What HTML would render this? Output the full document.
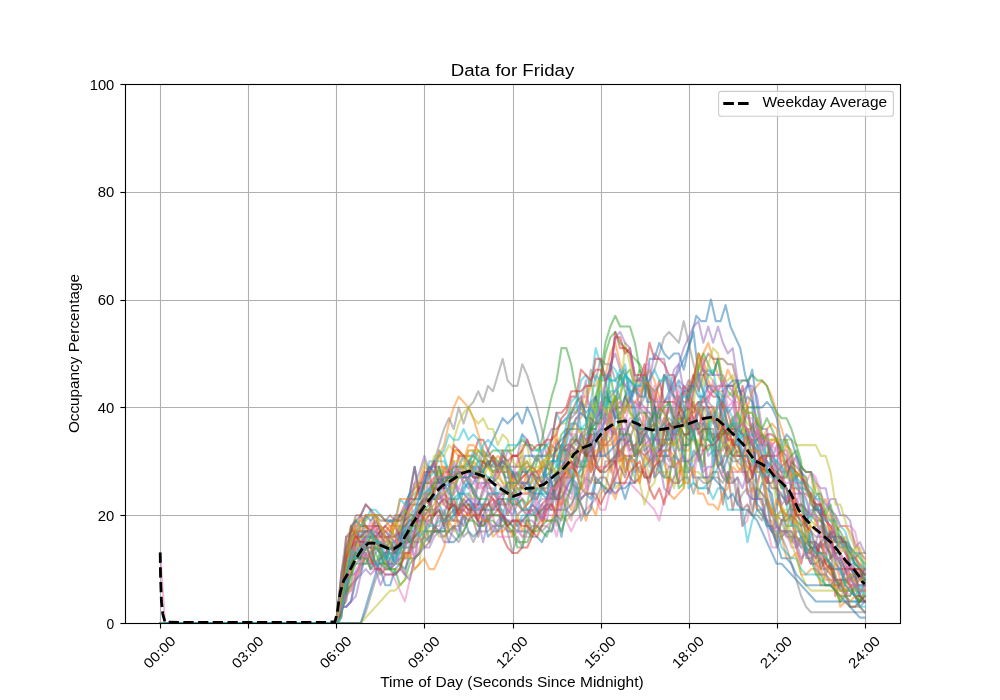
<!DOCTYPE html>
<html><head><meta charset="utf-8"><title>Data for Friday</title>
<style>
html,body{margin:0;padding:0;background:#fff;}
body{width:1000px;height:700px;overflow:hidden;font-family:"Liberation Sans",sans-serif;}
svg{display:block;will-change:transform;}
svg text{font-family:"Liberation Sans",sans-serif;fill:#000;}
</style></head><body>
<svg width="1000" height="700" viewBox="0 0 1000 700">
<rect x="0" y="0" width="1000" height="700" fill="#fff"/>
<g stroke="#b0b0b0" stroke-width="1.11" fill="none"><line x1="160.5" y1="84" x2="160.5" y2="623"/><line x1="248.5" y1="84" x2="248.5" y2="623"/><line x1="336.5" y1="84" x2="336.5" y2="623"/><line x1="424.5" y1="84" x2="424.5" y2="623"/><line x1="513.5" y1="84" x2="513.5" y2="623"/><line x1="601.5" y1="84" x2="601.5" y2="623"/><line x1="689.5" y1="84" x2="689.5" y2="623"/><line x1="777.5" y1="84" x2="777.5" y2="623"/><line x1="865.5" y1="84" x2="865.5" y2="623"/><line x1="125" y1="623.5" x2="900" y2="623.5"/><line x1="125" y1="515.5" x2="900" y2="515.5"/><line x1="125" y1="407.5" x2="900" y2="407.5"/><line x1="125" y1="300.5" x2="900" y2="300.5"/><line x1="125" y1="192.5" x2="900" y2="192.5"/><line x1="125" y1="84.5" x2="900" y2="84.5"/></g>
<g fill="none" stroke-width="2.08" stroke-opacity="0.5" stroke-linejoin="round" stroke-linecap="square">
<polyline points="160.20,623.00 165.09,623.00 169.99,623.00 174.88,623.00 179.77,623.00 184.67,623.00 189.56,623.00 194.45,623.00 199.34,623.00 204.24,623.00 209.13,623.00 214.02,623.00 218.92,623.00 223.81,623.00 228.70,623.00 233.60,623.00 238.49,623.00 243.38,623.00 248.27,623.00 253.17,623.00 258.06,623.00 262.95,623.00 267.85,623.00 272.74,623.00 277.63,623.00 282.53,623.00 287.42,623.00 292.31,623.00 297.21,623.00 302.10,623.00 306.99,623.00 311.88,623.00 316.78,623.00 321.67,623.00 326.56,623.00 331.46,623.00 336.35,623.00 341.24,596.05 346.14,558.32 351.03,558.32 355.92,558.32 360.82,558.32 365.71,547.54 370.60,536.76 375.49,542.15 380.39,542.15 385.28,547.54 390.17,547.54 395.07,547.54 399.96,542.15 404.85,525.98 409.75,520.59 414.64,520.59 419.53,520.59 424.42,520.59 429.32,525.98 434.21,515.20 439.10,504.42 444.00,515.20 448.89,499.03 453.78,499.03 458.68,499.03 463.57,482.86 468.46,488.25 473.36,482.86 478.25,472.08 483.14,461.30 488.03,450.52 492.93,439.74 497.82,428.96 502.71,418.18 507.61,423.57 512.50,418.18 517.39,412.79 522.29,423.57 527.18,407.40 532.07,418.18 536.97,434.35 541.86,455.91 546.75,477.47 551.64,482.86 556.54,499.03 561.43,499.03 566.32,488.25 571.22,477.47 576.11,482.86 581.00,499.03 585.90,493.64 590.79,499.03 595.68,477.47 600.57,482.86 605.47,493.64 610.36,488.25 615.25,493.64 620.15,488.25 625.04,488.25 629.93,482.86 634.83,482.86 639.72,428.96 644.61,450.52 649.51,445.13 654.40,450.52 659.29,450.52 664.18,445.13 669.08,423.57 673.97,450.52 678.86,461.30 683.76,455.91 688.65,472.08 693.54,450.52 698.44,455.91 703.33,477.47 708.22,477.47 713.12,472.08 718.01,428.96 722.90,472.08 727.79,455.91 732.69,450.52 737.58,434.35 742.47,472.08 747.37,472.08 752.26,499.03 757.15,499.03 762.05,482.86 766.94,488.25 771.83,493.64 776.72,525.98 781.62,531.37 786.51,531.37 791.40,536.76 796.30,536.76 801.19,542.15 806.08,552.93 810.98,547.54 815.87,547.54 820.76,542.15 825.66,536.76 830.55,542.15 835.44,563.71 840.33,569.10 845.23,585.27 850.12,590.66 855.01,596.05 859.91,606.83 864.80,601.44" stroke="#1f77b4"/>
<polyline points="160.20,623.00 165.09,623.00 169.99,623.00 174.88,623.00 179.77,623.00 184.67,623.00 189.56,623.00 194.45,623.00 199.34,623.00 204.24,623.00 209.13,623.00 214.02,623.00 218.92,623.00 223.81,623.00 228.70,623.00 233.60,623.00 238.49,623.00 243.38,623.00 248.27,623.00 253.17,623.00 258.06,623.00 262.95,623.00 267.85,623.00 272.74,623.00 277.63,623.00 282.53,623.00 287.42,623.00 292.31,623.00 297.21,623.00 302.10,623.00 306.99,623.00 311.88,623.00 316.78,623.00 321.67,623.00 326.56,623.00 331.46,623.00 336.35,623.00 341.24,617.61 346.14,579.88 351.03,574.49 355.92,547.54 360.82,552.93 365.71,542.15 370.60,542.15 375.49,536.76 380.39,536.76 385.28,542.15 390.17,536.76 395.07,536.76 399.96,515.20 404.85,515.20 409.75,509.81 414.64,482.86 419.53,488.25 424.42,488.25 429.32,472.08 434.21,472.08 439.10,455.91 444.00,445.13 448.89,423.57 453.78,407.40 458.68,396.62 463.57,402.01 468.46,407.40 473.36,418.18 478.25,434.35 483.14,450.52 488.03,461.30 492.93,461.30 497.82,455.91 502.71,461.30 507.61,466.69 512.50,477.47 517.39,488.25 522.29,493.64 527.18,493.64 532.07,488.25 536.97,499.03 541.86,482.86 546.75,493.64 551.64,493.64 556.54,499.03 561.43,504.42 566.32,499.03 571.22,509.81 576.11,488.25 581.00,504.42 585.90,520.59 590.79,504.42 595.68,515.20 600.57,493.64 605.47,488.25 610.36,488.25 615.25,499.03 620.15,482.86 625.04,439.74 629.93,450.52 634.83,445.13 639.72,439.74 644.61,412.79 649.51,423.57 654.40,439.74 659.29,439.74 664.18,439.74 669.08,450.52 673.97,455.91 678.86,439.74 683.76,450.52 688.65,450.52 693.54,434.35 698.44,402.01 703.33,434.35 708.22,418.18 713.12,418.18 718.01,407.40 722.90,402.01 727.79,428.96 732.69,445.13 737.58,466.69 742.47,472.08 747.37,472.08 752.26,488.25 757.15,509.81 762.05,515.20 766.94,520.59 771.83,520.59 776.72,536.76 781.62,536.76 786.51,558.32 791.40,558.32 796.30,552.93 801.19,574.49 806.08,574.49 810.98,569.10 815.87,569.10 820.76,585.27 825.66,585.27 830.55,585.27 835.44,585.27 840.33,606.83 845.23,601.44 850.12,606.83 855.01,606.83 859.91,601.44 864.80,596.05" stroke="#ff7f0e"/>
<polyline points="160.20,623.00 165.09,623.00 169.99,623.00 174.88,623.00 179.77,623.00 184.67,623.00 189.56,623.00 194.45,623.00 199.34,623.00 204.24,623.00 209.13,623.00 214.02,623.00 218.92,623.00 223.81,623.00 228.70,623.00 233.60,623.00 238.49,623.00 243.38,623.00 248.27,623.00 253.17,623.00 258.06,623.00 262.95,623.00 267.85,623.00 272.74,623.00 277.63,623.00 282.53,623.00 287.42,623.00 292.31,623.00 297.21,623.00 302.10,623.00 306.99,623.00 311.88,623.00 316.78,623.00 321.67,623.00 326.56,623.00 331.46,623.00 336.35,623.00 341.24,579.88 346.14,552.93 351.03,547.54 355.92,542.15 360.82,558.32 365.71,547.54 370.60,558.32 375.49,563.71 380.39,552.93 385.28,563.71 390.17,547.54 395.07,552.93 399.96,552.93 404.85,531.37 409.75,515.20 414.64,515.20 419.53,515.20 424.42,509.81 429.32,504.42 434.21,488.25 439.10,488.25 444.00,477.47 448.89,482.86 453.78,482.86 458.68,493.64 463.57,504.42 468.46,504.42 473.36,509.81 478.25,504.42 483.14,504.42 488.03,520.59 492.93,504.42 497.82,499.03 502.71,499.03 507.61,499.03 512.50,504.42 517.39,504.42 522.29,499.03 527.18,504.42 532.07,477.47 536.97,461.30 541.86,439.74 546.75,418.18 551.64,396.62 556.54,380.45 561.43,348.11 566.32,348.11 571.22,364.28 576.11,391.23 581.00,407.40 585.90,418.18 590.79,434.35 595.68,407.40 600.57,407.40 605.47,423.57 610.36,375.06 615.25,402.01 620.15,396.62 625.04,375.06 629.93,369.67 634.83,385.84 639.72,369.67 644.61,380.45 649.51,391.23 654.40,428.96 659.29,434.35 664.18,418.18 669.08,439.74 673.97,445.13 678.86,418.18 683.76,423.57 688.65,434.35 693.54,428.96 698.44,455.91 703.33,428.96 708.22,428.96 713.12,455.91 718.01,455.91 722.90,445.13 727.79,450.52 732.69,455.91 737.58,450.52 742.47,455.91 747.37,439.74 752.26,439.74 757.15,439.74 762.05,445.13 766.94,472.08 771.83,472.08 776.72,493.64 781.62,509.81 786.51,525.98 791.40,525.98 796.30,509.81 801.19,525.98 806.08,520.59 810.98,515.20 815.87,520.59 820.76,520.59 825.66,525.98 830.55,547.54 835.44,536.76 840.33,547.54 845.23,547.54 850.12,547.54 855.01,552.93 859.91,558.32 864.80,563.71" stroke="#2ca02c"/>
<polyline points="160.20,623.00 165.09,623.00 169.99,623.00 174.88,623.00 179.77,623.00 184.67,623.00 189.56,623.00 194.45,623.00 199.34,623.00 204.24,623.00 209.13,623.00 214.02,623.00 218.92,623.00 223.81,623.00 228.70,623.00 233.60,623.00 238.49,623.00 243.38,623.00 248.27,623.00 253.17,623.00 258.06,623.00 262.95,623.00 267.85,623.00 272.74,623.00 277.63,623.00 282.53,623.00 287.42,623.00 292.31,623.00 297.21,623.00 302.10,623.00 306.99,623.00 311.88,623.00 316.78,623.00 321.67,623.00 326.56,623.00 331.46,623.00 336.35,623.00 341.24,612.22 346.14,590.66 351.03,585.27 355.92,579.88 360.82,569.10 365.71,552.93 370.60,563.71 375.49,542.15 380.39,547.54 385.28,536.76 390.17,542.15 395.07,547.54 399.96,547.54 404.85,547.54 409.75,547.54 414.64,536.76 419.53,531.37 424.42,515.20 429.32,509.81 434.21,482.86 439.10,482.86 444.00,482.86 448.89,477.47 453.78,477.47 458.68,472.08 463.57,472.08 468.46,472.08 473.36,477.47 478.25,477.47 483.14,477.47 488.03,482.86 492.93,493.64 497.82,499.03 502.71,536.76 507.61,547.54 512.50,552.93 517.39,552.93 522.29,547.54 527.18,547.54 532.07,536.76 536.97,515.20 541.86,504.42 546.75,499.03 551.64,488.25 556.54,482.86 561.43,477.47 566.32,477.47 571.22,466.69 576.11,472.08 581.00,488.25 585.90,493.64 590.79,493.64 595.68,493.64 600.57,504.42 605.47,493.64 610.36,488.25 615.25,466.69 620.15,450.52 625.04,455.91 629.93,455.91 634.83,455.91 639.72,450.52 644.61,455.91 649.51,450.52 654.40,439.74 659.29,428.96 664.18,423.57 669.08,407.40 673.97,418.18 678.86,396.62 683.76,402.01 688.65,402.01 693.54,407.40 698.44,402.01 703.33,402.01 708.22,396.62 713.12,391.23 718.01,385.84 722.90,385.84 727.79,385.84 732.69,385.84 737.58,418.18 742.47,385.84 747.37,407.40 752.26,434.35 757.15,445.13 762.05,472.08 766.94,461.30 771.83,466.69 776.72,482.86 781.62,509.81 786.51,515.20 791.40,515.20 796.30,547.54 801.19,563.71 806.08,542.15 810.98,542.15 815.87,547.54 820.76,569.10 825.66,558.32 830.55,563.71 835.44,596.05 840.33,579.88 845.23,596.05 850.12,585.27 855.01,596.05 859.91,601.44 864.80,596.05" stroke="#d62728"/>
<polyline points="160.20,623.00 165.09,623.00 169.99,623.00 174.88,623.00 179.77,623.00 184.67,623.00 189.56,623.00 194.45,623.00 199.34,623.00 204.24,623.00 209.13,623.00 214.02,623.00 218.92,623.00 223.81,623.00 228.70,623.00 233.60,623.00 238.49,623.00 243.38,623.00 248.27,623.00 253.17,623.00 258.06,623.00 262.95,623.00 267.85,623.00 272.74,623.00 277.63,623.00 282.53,623.00 287.42,623.00 292.31,623.00 297.21,623.00 302.10,623.00 306.99,623.00 311.88,623.00 316.78,623.00 321.67,623.00 326.56,623.00 331.46,623.00 336.35,623.00 341.24,596.05 346.14,558.32 351.03,558.32 355.92,520.59 360.82,525.98 365.71,525.98 370.60,531.37 375.49,552.93 380.39,547.54 385.28,547.54 390.17,542.15 395.07,563.71 399.96,536.76 404.85,547.54 409.75,536.76 414.64,558.32 419.53,531.37 424.42,531.37 429.32,520.59 434.21,525.98 439.10,531.37 444.00,520.59 448.89,520.59 453.78,515.20 458.68,504.42 463.57,504.42 468.46,499.03 473.36,504.42 478.25,504.42 483.14,493.64 488.03,477.47 492.93,477.47 497.82,466.69 502.71,466.69 507.61,450.52 512.50,455.91 517.39,455.91 522.29,434.35 527.18,439.74 532.07,455.91 536.97,461.30 541.86,455.91 546.75,439.74 551.64,428.96 556.54,428.96 561.43,423.57 566.32,418.18 571.22,418.18 576.11,412.79 581.00,402.01 585.90,380.45 590.79,428.96 595.68,428.96 600.57,407.40 605.47,385.84 610.36,364.28 615.25,353.50 620.15,369.67 625.04,385.84 629.93,380.45 634.83,391.23 639.72,385.84 644.61,375.06 649.51,385.84 654.40,396.62 659.29,455.91 664.18,450.52 669.08,461.30 673.97,455.91 678.86,461.30 683.76,472.08 688.65,472.08 693.54,466.69 698.44,450.52 703.33,434.35 708.22,455.91 713.12,450.52 718.01,450.52 722.90,461.30 727.79,482.86 732.69,482.86 737.58,477.47 742.47,488.25 747.37,472.08 752.26,461.30 757.15,482.86 762.05,466.69 766.94,499.03 771.83,509.81 776.72,520.59 781.62,536.76 786.51,531.37 791.40,542.15 796.30,531.37 801.19,531.37 806.08,536.76 810.98,547.54 815.87,558.32 820.76,542.15 825.66,547.54 830.55,531.37 835.44,542.15 840.33,536.76 845.23,542.15 850.12,552.93 855.01,563.71 859.91,569.10 864.80,574.49" stroke="#9467bd"/>
<polyline points="160.20,623.00 165.09,623.00 169.99,623.00 174.88,623.00 179.77,623.00 184.67,623.00 189.56,623.00 194.45,623.00 199.34,623.00 204.24,623.00 209.13,623.00 214.02,623.00 218.92,623.00 223.81,623.00 228.70,623.00 233.60,623.00 238.49,623.00 243.38,623.00 248.27,623.00 253.17,623.00 258.06,623.00 262.95,623.00 267.85,623.00 272.74,623.00 277.63,623.00 282.53,623.00 287.42,623.00 292.31,623.00 297.21,623.00 302.10,623.00 306.99,623.00 311.88,623.00 316.78,623.00 321.67,623.00 326.56,623.00 331.46,623.00 336.35,623.00 341.24,606.83 346.14,601.44 351.03,569.10 355.92,563.71 360.82,558.32 365.71,547.54 370.60,547.54 375.49,563.71 380.39,574.49 385.28,569.10 390.17,569.10 395.07,563.71 399.96,563.71 404.85,574.49 409.75,547.54 414.64,547.54 419.53,536.76 424.42,547.54 429.32,542.15 434.21,531.37 439.10,531.37 444.00,531.37 448.89,520.59 453.78,520.59 458.68,520.59 463.57,525.98 468.46,509.81 473.36,520.59 478.25,536.76 483.14,515.20 488.03,504.42 492.93,493.64 497.82,493.64 502.71,493.64 507.61,493.64 512.50,493.64 517.39,504.42 522.29,509.81 527.18,515.20 532.07,504.42 536.97,509.81 541.86,520.59 546.75,499.03 551.64,499.03 556.54,488.25 561.43,482.86 566.32,466.69 571.22,461.30 576.11,466.69 581.00,450.52 585.90,455.91 590.79,423.57 595.68,439.74 600.57,434.35 605.47,455.91 610.36,461.30 615.25,455.91 620.15,450.52 625.04,445.13 629.93,439.74 634.83,423.57 639.72,418.18 644.61,428.96 649.51,391.23 654.40,407.40 659.29,407.40 664.18,375.06 669.08,380.45 673.97,396.62 678.86,412.79 683.76,391.23 688.65,391.23 693.54,407.40 698.44,412.79 703.33,418.18 708.22,428.96 713.12,439.74 718.01,434.35 722.90,428.96 727.79,450.52 732.69,439.74 737.58,445.13 742.47,455.91 747.37,466.69 752.26,472.08 757.15,509.81 762.05,509.81 766.94,525.98 771.83,525.98 776.72,542.15 781.62,520.59 786.51,515.20 791.40,504.42 796.30,520.59 801.19,536.76 806.08,552.93 810.98,563.71 815.87,563.71 820.76,558.32 825.66,574.49 830.55,563.71 835.44,579.88 840.33,590.66 845.23,590.66 850.12,606.83 855.01,606.83 859.91,601.44 864.80,601.44" stroke="#8c564b"/>
<polyline points="160.20,552.93 165.09,623.00 169.99,623.00 174.88,623.00 179.77,623.00 184.67,623.00 189.56,623.00 194.45,623.00 199.34,623.00 204.24,623.00 209.13,623.00 214.02,623.00 218.92,623.00 223.81,623.00 228.70,623.00 233.60,623.00 238.49,623.00 243.38,623.00 248.27,623.00 253.17,623.00 258.06,623.00 262.95,623.00 267.85,623.00 272.74,623.00 277.63,623.00 282.53,623.00 287.42,623.00 292.31,623.00 297.21,623.00 302.10,623.00 306.99,623.00 311.88,623.00 316.78,623.00 321.67,623.00 326.56,623.00 331.46,623.00 336.35,623.00 341.24,596.05 346.14,579.88 351.03,563.71 355.92,558.32 360.82,552.93 365.71,536.76 370.60,536.76 375.49,542.15 380.39,552.93 385.28,552.93 390.17,547.54 395.07,552.93 399.96,542.15 404.85,547.54 409.75,525.98 414.64,520.59 419.53,515.20 424.42,493.64 429.32,493.64 434.21,477.47 439.10,477.47 444.00,482.86 448.89,493.64 453.78,482.86 458.68,488.25 463.57,477.47 468.46,472.08 473.36,493.64 478.25,482.86 483.14,488.25 488.03,482.86 492.93,482.86 497.82,472.08 502.71,472.08 507.61,488.25 512.50,520.59 517.39,525.98 522.29,536.76 527.18,536.76 532.07,536.76 536.97,525.98 541.86,525.98 546.75,525.98 551.64,520.59 556.54,536.76 561.43,515.20 566.32,520.59 571.22,531.37 576.11,520.59 581.00,515.20 585.90,509.81 590.79,504.42 595.68,499.03 600.57,509.81 605.47,509.81 610.36,488.25 615.25,493.64 620.15,488.25 625.04,482.86 629.93,482.86 634.83,488.25 639.72,493.64 644.61,499.03 649.51,504.42 654.40,509.81 659.29,520.59 664.18,499.03 669.08,493.64 673.97,385.84 678.86,385.84 683.76,391.23 688.65,396.62 693.54,423.57 698.44,412.79 703.33,423.57 708.22,428.96 713.12,434.35 718.01,445.13 722.90,472.08 727.79,477.47 732.69,477.47 737.58,488.25 742.47,525.98 747.37,520.59 752.26,488.25 757.15,493.64 762.05,504.42 766.94,525.98 771.83,547.54 776.72,547.54 781.62,531.37 786.51,531.37 791.40,547.54 796.30,547.54 801.19,542.15 806.08,547.54 810.98,558.32 815.87,552.93 820.76,542.15 825.66,558.32 830.55,542.15 835.44,558.32 840.33,563.71 845.23,569.10 850.12,563.71 855.01,579.88 859.91,569.10 864.80,585.27" stroke="#e377c2"/>
<polyline points="160.20,623.00 165.09,623.00 169.99,623.00 174.88,623.00 179.77,623.00 184.67,623.00 189.56,623.00 194.45,623.00 199.34,623.00 204.24,623.00 209.13,623.00 214.02,623.00 218.92,623.00 223.81,623.00 228.70,623.00 233.60,623.00 238.49,623.00 243.38,623.00 248.27,623.00 253.17,623.00 258.06,623.00 262.95,623.00 267.85,623.00 272.74,623.00 277.63,623.00 282.53,623.00 287.42,623.00 292.31,623.00 297.21,623.00 302.10,623.00 306.99,623.00 311.88,623.00 316.78,623.00 321.67,623.00 326.56,623.00 331.46,623.00 336.35,623.00 341.24,623.00 346.14,623.00 351.03,623.00 355.92,623.00 360.82,623.00 365.71,612.22 370.60,596.05 375.49,579.88 380.39,569.10 385.28,552.93 390.17,547.54 395.07,552.93 399.96,563.71 404.85,558.32 409.75,547.54 414.64,531.37 419.53,515.20 424.42,499.03 429.32,477.47 434.21,461.30 439.10,445.13 444.00,428.96 448.89,418.18 453.78,428.96 458.68,407.40 463.57,423.57 468.46,407.40 473.36,402.01 478.25,391.23 483.14,402.01 488.03,385.84 492.93,391.23 497.82,375.06 502.71,358.89 507.61,380.45 512.50,385.84 517.39,385.84 522.29,364.28 527.18,375.06 532.07,391.23 536.97,407.40 541.86,428.96 546.75,455.91 551.64,472.08 556.54,482.86 561.43,472.08 566.32,439.74 571.22,412.79 576.11,412.79 581.00,402.01 585.90,407.40 590.79,369.67 595.68,380.45 600.57,358.89 605.47,364.28 610.36,364.28 615.25,380.45 620.15,375.06 625.04,369.67 629.93,402.01 634.83,402.01 639.72,407.40 644.61,412.79 649.51,412.79 654.40,423.57 659.29,428.96 664.18,423.57 669.08,418.18 673.97,423.57 678.86,412.79 683.76,407.40 688.65,407.40 693.54,412.79 698.44,402.01 703.33,407.40 708.22,412.79 713.12,423.57 718.01,402.01 722.90,418.18 727.79,455.91 732.69,461.30 737.58,461.30 742.47,466.69 747.37,477.47 752.26,482.86 757.15,499.03 762.05,499.03 766.94,525.98 771.83,525.98 776.72,547.54 781.62,536.76 786.51,531.37 791.40,531.37 796.30,542.15 801.19,536.76 806.08,536.76 810.98,547.54 815.87,547.54 820.76,569.10 825.66,569.10 830.55,574.49 835.44,579.88 840.33,585.27 845.23,579.88 850.12,574.49 855.01,590.66 859.91,574.49 864.80,574.49" stroke="#7f7f7f"/>
<polyline points="160.20,623.00 165.09,623.00 169.99,623.00 174.88,623.00 179.77,623.00 184.67,623.00 189.56,623.00 194.45,623.00 199.34,623.00 204.24,623.00 209.13,623.00 214.02,623.00 218.92,623.00 223.81,623.00 228.70,623.00 233.60,623.00 238.49,623.00 243.38,623.00 248.27,623.00 253.17,623.00 258.06,623.00 262.95,623.00 267.85,623.00 272.74,623.00 277.63,623.00 282.53,623.00 287.42,623.00 292.31,623.00 297.21,623.00 302.10,623.00 306.99,623.00 311.88,623.00 316.78,623.00 321.67,623.00 326.56,623.00 331.46,623.00 336.35,623.00 341.24,585.27 346.14,552.93 351.03,536.76 355.92,525.98 360.82,525.98 365.71,525.98 370.60,536.76 375.49,542.15 380.39,547.54 385.28,563.71 390.17,563.71 395.07,563.71 399.96,563.71 404.85,547.54 409.75,547.54 414.64,542.15 419.53,536.76 424.42,525.98 429.32,536.76 434.21,525.98 439.10,536.76 444.00,536.76 448.89,531.37 453.78,439.74 458.68,423.57 463.57,412.79 468.46,407.40 473.36,418.18 478.25,423.57 483.14,418.18 488.03,428.96 492.93,428.96 497.82,445.13 502.71,434.35 507.61,439.74 512.50,461.30 517.39,466.69 522.29,445.13 527.18,445.13 532.07,472.08 536.97,482.86 541.86,466.69 546.75,455.91 551.64,450.52 556.54,450.52 561.43,515.20 566.32,520.59 571.22,515.20 576.11,504.42 581.00,482.86 585.90,493.64 590.79,477.47 595.68,482.86 600.57,482.86 605.47,488.25 610.36,461.30 615.25,488.25 620.15,482.86 625.04,455.91 629.93,466.69 634.83,477.47 639.72,482.86 644.61,504.42 649.51,488.25 654.40,482.86 659.29,461.30 664.18,461.30 669.08,482.86 673.97,477.47 678.86,472.08 683.76,466.69 688.65,461.30 693.54,428.96 698.44,412.79 703.33,407.40 708.22,423.57 713.12,418.18 718.01,428.96 722.90,418.18 727.79,428.96 732.69,423.57 737.58,428.96 742.47,434.35 747.37,434.35 752.26,461.30 757.15,434.35 762.05,461.30 766.94,472.08 771.83,472.08 776.72,504.42 781.62,504.42 786.51,520.59 791.40,515.20 796.30,525.98 801.19,531.37 806.08,542.15 810.98,547.54 815.87,552.93 820.76,585.27 825.66,574.49 830.55,579.88 835.44,585.27 840.33,601.44 845.23,579.88 850.12,585.27 855.01,585.27 859.91,579.88 864.80,585.27" stroke="#bcbd22"/>
<polyline points="160.20,623.00 165.09,623.00 169.99,623.00 174.88,623.00 179.77,623.00 184.67,623.00 189.56,623.00 194.45,623.00 199.34,623.00 204.24,623.00 209.13,623.00 214.02,623.00 218.92,623.00 223.81,623.00 228.70,623.00 233.60,623.00 238.49,623.00 243.38,623.00 248.27,623.00 253.17,623.00 258.06,623.00 262.95,623.00 267.85,623.00 272.74,623.00 277.63,623.00 282.53,623.00 287.42,623.00 292.31,623.00 297.21,623.00 302.10,623.00 306.99,623.00 311.88,623.00 316.78,623.00 321.67,623.00 326.56,623.00 331.46,623.00 336.35,623.00 341.24,579.88 346.14,547.54 351.03,542.15 355.92,531.37 360.82,531.37 365.71,531.37 370.60,531.37 375.49,547.54 380.39,552.93 385.28,558.32 390.17,547.54 395.07,547.54 399.96,536.76 404.85,515.20 409.75,499.03 414.64,493.64 419.53,488.25 424.42,482.86 429.32,461.30 434.21,461.30 439.10,461.30 444.00,461.30 448.89,472.08 453.78,466.69 458.68,466.69 463.57,466.69 468.46,472.08 473.36,477.47 478.25,477.47 483.14,466.69 488.03,461.30 492.93,466.69 497.82,466.69 502.71,461.30 507.61,472.08 512.50,488.25 517.39,493.64 522.29,482.86 527.18,482.86 532.07,493.64 536.97,499.03 541.86,488.25 546.75,466.69 551.64,472.08 556.54,466.69 561.43,445.13 566.32,455.91 571.22,439.74 576.11,434.35 581.00,450.52 585.90,445.13 590.79,428.96 595.68,423.57 600.57,418.18 605.47,407.40 610.36,396.62 615.25,407.40 620.15,407.40 625.04,396.62 629.93,391.23 634.83,391.23 639.72,396.62 644.61,385.84 649.51,391.23 654.40,402.01 659.29,402.01 664.18,402.01 669.08,396.62 673.97,434.35 678.86,412.79 683.76,423.57 688.65,423.57 693.54,482.86 698.44,488.25 703.33,488.25 708.22,488.25 713.12,499.03 718.01,488.25 722.90,488.25 727.79,509.81 732.69,509.81 737.58,509.81 742.47,509.81 747.37,542.15 752.26,520.59 757.15,509.81 762.05,515.20 766.94,525.98 771.83,531.37 776.72,531.37 781.62,547.54 786.51,552.93 791.40,558.32 796.30,558.32 801.19,569.10 806.08,574.49 810.98,574.49 815.87,574.49 820.76,579.88 825.66,585.27 830.55,585.27 835.44,590.66 840.33,596.05 845.23,596.05 850.12,601.44 855.01,601.44 859.91,606.83 864.80,606.83" stroke="#17becf"/>
<polyline points="160.20,623.00 167.78,623.00 172.68,623.00 177.57,623.00 182.46,623.00 187.36,623.00 192.25,623.00 197.14,623.00 202.04,623.00 206.93,623.00 211.82,623.00 216.71,623.00 221.61,623.00 226.50,623.00 231.39,623.00 236.29,623.00 241.18,623.00 246.07,623.00 250.97,623.00 255.86,623.00 260.75,623.00 265.65,623.00 270.54,623.00 275.43,623.00 280.32,623.00 285.22,623.00 290.11,623.00 295.00,623.00 299.90,623.00 304.79,623.00 309.68,623.00 314.58,623.00 319.47,623.00 324.36,623.00 329.26,623.00 334.15,623.00 339.04,623.00 343.93,596.05 348.83,574.49 353.72,574.49 358.61,569.10 363.51,547.54 368.40,547.54 373.29,547.54 378.19,547.54 383.08,552.93 387.97,552.93 392.86,542.15 397.76,547.54 402.65,542.15 407.54,542.15 412.44,520.59 417.33,515.20 422.22,515.20 427.12,493.64 432.01,482.86 436.90,482.86 441.80,472.08 446.69,466.69 451.58,482.86 456.47,472.08 461.37,466.69 466.26,466.69 471.15,461.30 476.05,482.86 480.94,472.08 485.83,466.69 490.73,466.69 495.62,461.30 500.51,466.69 505.41,477.47 510.30,477.47 515.19,472.08 520.08,477.47 524.98,455.91 529.87,455.91 534.76,455.91 539.66,461.30 544.55,477.47 549.44,472.08 554.34,499.03 559.23,499.03 564.12,493.64 569.01,482.86 573.91,477.47 578.80,472.08 583.69,466.69 588.59,450.52 593.48,439.74 598.37,434.35 603.27,423.57 608.16,418.18 613.05,434.35 617.95,391.23 622.84,407.40 627.73,385.84 632.62,396.62 637.52,380.45 642.41,375.06 647.30,402.01 652.20,402.01 657.09,412.79 661.98,407.40 666.88,396.62 671.77,385.84 676.66,375.06 681.56,364.28 686.45,353.50 691.34,337.33 696.23,315.77 701.13,321.16 706.02,321.16 710.91,299.60 715.81,321.16 720.70,321.16 725.59,304.99 730.49,326.55 735.38,337.33 740.27,348.11 745.16,375.06 750.06,391.23 754.95,412.79 759.84,428.96 764.74,445.13 769.63,493.64 774.52,515.20 779.42,493.64 784.31,499.03 789.20,493.64 794.10,472.08 798.99,488.25 803.88,488.25 808.77,493.64 813.67,499.03 818.56,493.64 823.45,525.98 828.35,536.76 833.24,531.37 838.13,536.76 843.03,542.15 847.92,542.15 852.81,552.93 857.71,563.71 862.60,569.10 864.80,579.88" stroke="#1f77b4"/>
<polyline points="160.20,623.00 165.09,623.00 169.99,623.00 174.88,623.00 179.77,623.00 184.67,623.00 189.56,623.00 194.45,623.00 199.34,623.00 204.24,623.00 209.13,623.00 214.02,623.00 218.92,623.00 223.81,623.00 228.70,623.00 233.60,623.00 238.49,623.00 243.38,623.00 248.27,623.00 253.17,623.00 258.06,623.00 262.95,623.00 267.85,623.00 272.74,623.00 277.63,623.00 282.53,623.00 287.42,623.00 292.31,623.00 297.21,623.00 302.10,623.00 306.99,623.00 311.88,623.00 316.78,623.00 321.67,623.00 326.56,623.00 331.46,623.00 336.35,623.00 341.24,601.44 346.14,579.88 351.03,574.49 355.92,542.15 360.82,547.54 365.71,542.15 370.60,531.37 375.49,531.37 380.39,536.76 385.28,547.54 390.17,542.15 395.07,542.15 399.96,547.54 404.85,536.76 409.75,531.37 414.64,515.20 419.53,515.20 424.42,493.64 429.32,493.64 434.21,493.64 439.10,472.08 444.00,466.69 448.89,472.08 453.78,450.52 458.68,455.91 463.57,472.08 468.46,472.08 473.36,461.30 478.25,466.69 483.14,472.08 488.03,461.30 492.93,466.69 497.82,466.69 502.71,461.30 507.61,466.69 512.50,488.25 517.39,482.86 522.29,477.47 527.18,472.08 532.07,472.08 536.97,472.08 541.86,472.08 546.75,461.30 551.64,455.91 556.54,455.91 561.43,461.30 566.32,434.35 571.22,434.35 576.11,418.18 581.00,418.18 585.90,402.01 590.79,385.84 595.68,385.84 600.57,375.06 605.47,375.06 610.36,353.50 615.25,342.72 620.15,364.28 625.04,375.06 629.93,380.45 634.83,385.84 639.72,391.23 644.61,380.45 649.51,369.67 654.40,380.45 659.29,396.62 664.18,407.40 669.08,423.57 673.97,445.13 678.86,439.74 683.76,423.57 688.65,418.18 693.54,385.84 698.44,353.50 703.33,358.89 708.22,380.45 713.12,391.23 718.01,391.23 722.90,391.23 727.79,439.74 732.69,445.13 737.58,418.18 742.47,434.35 747.37,428.96 752.26,428.96 757.15,418.18 762.05,439.74 766.94,428.96 771.83,423.57 776.72,428.96 781.62,455.91 786.51,445.13 791.40,450.52 796.30,477.47 801.19,466.69 806.08,472.08 810.98,472.08 815.87,509.81 820.76,504.42 825.66,499.03 830.55,515.20 835.44,531.37 840.33,525.98 845.23,525.98 850.12,531.37 855.01,542.15 859.91,552.93 864.80,558.32" stroke="#ff7f0e"/>
<polyline points="160.20,623.00 165.09,623.00 169.99,623.00 174.88,623.00 179.77,623.00 184.67,623.00 189.56,623.00 194.45,623.00 199.34,623.00 204.24,623.00 209.13,623.00 214.02,623.00 218.92,623.00 223.81,623.00 228.70,623.00 233.60,623.00 238.49,623.00 243.38,623.00 248.27,623.00 253.17,623.00 258.06,623.00 262.95,623.00 267.85,623.00 272.74,623.00 277.63,623.00 282.53,623.00 287.42,623.00 292.31,623.00 297.21,623.00 302.10,623.00 306.99,623.00 311.88,623.00 316.78,623.00 321.67,623.00 326.56,623.00 331.46,623.00 336.35,623.00 341.24,601.44 346.14,569.10 351.03,563.71 355.92,558.32 360.82,558.32 365.71,547.54 370.60,536.76 375.49,536.76 380.39,531.37 385.28,547.54 390.17,547.54 395.07,547.54 399.96,542.15 404.85,542.15 409.75,542.15 414.64,536.76 419.53,531.37 424.42,509.81 429.32,509.81 434.21,515.20 439.10,509.81 444.00,520.59 448.89,509.81 453.78,488.25 458.68,477.47 463.57,472.08 468.46,472.08 473.36,461.30 478.25,450.52 483.14,455.91 488.03,455.91 492.93,450.52 497.82,450.52 502.71,450.52 507.61,450.52 512.50,450.52 517.39,445.13 522.29,439.74 527.18,445.13 532.07,445.13 536.97,450.52 541.86,445.13 546.75,445.13 551.64,455.91 556.54,450.52 561.43,434.35 566.32,428.96 571.22,428.96 576.11,428.96 581.00,428.96 585.90,455.91 590.79,418.18 595.68,396.62 600.57,375.06 605.47,342.72 610.36,326.55 615.25,315.77 620.15,326.55 625.04,326.55 629.93,326.55 634.83,342.72 639.72,369.67 644.61,385.84 649.51,396.62 654.40,407.40 659.29,439.74 664.18,428.96 669.08,434.35 673.97,434.35 678.86,418.18 683.76,418.18 688.65,423.57 693.54,434.35 698.44,445.13 703.33,445.13 708.22,450.52 713.12,439.74 718.01,434.35 722.90,434.35 727.79,428.96 732.69,418.18 737.58,412.79 742.47,423.57 747.37,434.35 752.26,455.91 757.15,466.69 762.05,466.69 766.94,472.08 771.83,472.08 776.72,477.47 781.62,488.25 786.51,461.30 791.40,455.91 796.30,477.47 801.19,472.08 806.08,488.25 810.98,499.03 815.87,515.20 820.76,520.59 825.66,536.76 830.55,558.32 835.44,552.93 840.33,563.71 845.23,585.27 850.12,574.49 855.01,585.27 859.91,585.27 864.80,585.27" stroke="#2ca02c"/>
<polyline points="160.20,623.00 165.09,623.00 169.99,623.00 174.88,623.00 179.77,623.00 184.67,623.00 189.56,623.00 194.45,623.00 199.34,623.00 204.24,623.00 209.13,623.00 214.02,623.00 218.92,623.00 223.81,623.00 228.70,623.00 233.60,623.00 238.49,623.00 243.38,623.00 248.27,623.00 253.17,623.00 258.06,623.00 262.95,623.00 267.85,623.00 272.74,623.00 277.63,623.00 282.53,623.00 287.42,623.00 292.31,623.00 297.21,623.00 302.10,623.00 306.99,623.00 311.88,623.00 316.78,623.00 321.67,623.00 326.56,623.00 331.46,623.00 336.35,623.00 341.24,596.05 346.14,569.10 351.03,563.71 355.92,542.15 360.82,525.98 365.71,525.98 370.60,525.98 375.49,525.98 380.39,525.98 385.28,536.76 390.17,536.76 395.07,525.98 399.96,536.76 404.85,531.37 409.75,525.98 414.64,515.20 419.53,515.20 424.42,499.03 429.32,504.42 434.21,488.25 439.10,488.25 444.00,488.25 448.89,472.08 453.78,477.47 458.68,455.91 463.57,455.91 468.46,455.91 473.36,455.91 478.25,439.74 483.14,439.74 488.03,450.52 492.93,461.30 497.82,466.69 502.71,472.08 507.61,472.08 512.50,455.91 517.39,455.91 522.29,472.08 527.18,466.69 532.07,466.69 536.97,472.08 541.86,466.69 546.75,466.69 551.64,472.08 556.54,439.74 561.43,450.52 566.32,445.13 571.22,445.13 576.11,439.74 581.00,445.13 585.90,450.52 590.79,472.08 595.68,439.74 600.57,445.13 605.47,445.13 610.36,439.74 615.25,428.96 620.15,461.30 625.04,455.91 629.93,477.47 634.83,482.86 639.72,477.47 644.61,466.69 649.51,488.25 654.40,499.03 659.29,488.25 664.18,504.42 669.08,477.47 673.97,482.86 678.86,482.86 683.76,434.35 688.65,434.35 693.54,402.01 698.44,428.96 703.33,407.40 708.22,407.40 713.12,407.40 718.01,428.96 722.90,402.01 727.79,412.79 732.69,428.96 737.58,439.74 742.47,445.13 747.37,434.35 752.26,445.13 757.15,466.69 762.05,455.91 766.94,455.91 771.83,445.13 776.72,439.74 781.62,450.52 786.51,455.91 791.40,488.25 796.30,488.25 801.19,493.64 806.08,493.64 810.98,499.03 815.87,504.42 820.76,515.20 825.66,515.20 830.55,536.76 835.44,558.32 840.33,558.32 845.23,569.10 850.12,585.27 855.01,585.27 859.91,590.66 864.80,590.66" stroke="#d62728"/>
<polyline points="160.20,623.00 165.09,623.00 169.99,623.00 174.88,623.00 179.77,623.00 184.67,623.00 189.56,623.00 194.45,623.00 199.34,623.00 204.24,623.00 209.13,623.00 214.02,623.00 218.92,623.00 223.81,623.00 228.70,623.00 233.60,623.00 238.49,623.00 243.38,623.00 248.27,623.00 253.17,623.00 258.06,623.00 262.95,623.00 267.85,623.00 272.74,623.00 277.63,623.00 282.53,623.00 287.42,623.00 292.31,623.00 297.21,623.00 302.10,623.00 306.99,623.00 311.88,623.00 316.78,623.00 321.67,623.00 326.56,623.00 331.46,623.00 336.35,623.00 341.24,574.49 346.14,536.76 351.03,536.76 355.92,531.37 360.82,515.20 365.71,504.42 370.60,509.81 375.49,525.98 380.39,525.98 385.28,531.37 390.17,536.76 395.07,542.15 399.96,531.37 404.85,536.76 409.75,525.98 414.64,525.98 419.53,515.20 424.42,499.03 429.32,504.42 434.21,493.64 439.10,499.03 444.00,488.25 448.89,488.25 453.78,461.30 458.68,472.08 463.57,466.69 468.46,472.08 473.36,472.08 478.25,466.69 483.14,472.08 488.03,493.64 492.93,493.64 497.82,493.64 502.71,520.59 507.61,509.81 512.50,515.20 517.39,504.42 522.29,482.86 527.18,482.86 532.07,488.25 536.97,509.81 541.86,504.42 546.75,509.81 551.64,509.81 556.54,509.81 561.43,509.81 566.32,482.86 571.22,466.69 576.11,461.30 581.00,445.13 585.90,428.96 590.79,402.01 595.68,396.62 600.57,412.79 605.47,402.01 610.36,396.62 615.25,391.23 620.15,375.06 625.04,385.84 629.93,391.23 634.83,428.96 639.72,402.01 644.61,407.40 649.51,412.79 654.40,418.18 659.29,412.79 664.18,434.35 669.08,396.62 673.97,380.45 678.86,364.28 683.76,348.11 688.65,337.33 693.54,326.55 698.44,321.16 703.33,342.72 708.22,326.55 713.12,342.72 718.01,326.55 722.90,342.72 727.79,353.50 732.69,348.11 737.58,380.45 742.47,380.45 747.37,380.45 752.26,391.23 757.15,428.96 762.05,445.13 766.94,445.13 771.83,450.52 776.72,466.69 781.62,472.08 786.51,488.25 791.40,515.20 796.30,499.03 801.19,509.81 806.08,525.98 810.98,493.64 815.87,504.42 820.76,515.20 825.66,509.81 830.55,499.03 835.44,499.03 840.33,515.20 845.23,515.20 850.12,520.59 855.01,547.54 859.91,542.15 864.80,552.93" stroke="#9467bd"/>
<polyline points="160.20,623.00 165.09,623.00 169.99,623.00 174.88,623.00 179.77,623.00 184.67,623.00 189.56,623.00 194.45,623.00 199.34,623.00 204.24,623.00 209.13,623.00 214.02,623.00 218.92,623.00 223.81,623.00 228.70,623.00 233.60,623.00 238.49,623.00 243.38,623.00 248.27,623.00 253.17,623.00 258.06,623.00 262.95,623.00 267.85,623.00 272.74,623.00 277.63,623.00 282.53,623.00 287.42,623.00 292.31,623.00 297.21,623.00 302.10,623.00 306.99,623.00 311.88,623.00 316.78,623.00 321.67,623.00 326.56,623.00 331.46,623.00 336.35,623.00 341.24,596.05 346.14,569.10 351.03,563.71 355.92,558.32 360.82,558.32 365.71,542.15 370.60,542.15 375.49,563.71 380.39,563.71 385.28,569.10 390.17,558.32 395.07,547.54 399.96,547.54 404.85,542.15 409.75,542.15 414.64,536.76 419.53,520.59 424.42,520.59 429.32,520.59 434.21,515.20 439.10,509.81 444.00,525.98 448.89,515.20 453.78,520.59 458.68,509.81 463.57,504.42 468.46,509.81 473.36,504.42 478.25,525.98 483.14,520.59 488.03,520.59 492.93,515.20 497.82,515.20 502.71,515.20 507.61,525.98 512.50,520.59 517.39,520.59 522.29,520.59 527.18,515.20 532.07,509.81 536.97,509.81 541.86,520.59 546.75,504.42 551.64,509.81 556.54,482.86 561.43,477.47 566.32,466.69 571.22,450.52 576.11,466.69 581.00,466.69 585.90,450.52 590.79,445.13 595.68,461.30 600.57,439.74 605.47,439.74 610.36,423.57 615.25,407.40 620.15,407.40 625.04,412.79 629.93,396.62 634.83,385.84 639.72,407.40 644.61,380.45 649.51,391.23 654.40,407.40 659.29,423.57 664.18,375.06 669.08,385.84 673.97,396.62 678.86,402.01 683.76,412.79 688.65,428.96 693.54,428.96 698.44,461.30 703.33,450.52 708.22,493.64 713.12,472.08 718.01,472.08 722.90,504.42 727.79,472.08 732.69,509.81 737.58,488.25 742.47,509.81 747.37,504.42 752.26,515.20 757.15,488.25 762.05,493.64 766.94,499.03 771.83,515.20 776.72,515.20 781.62,520.59 786.51,520.59 791.40,515.20 796.30,520.59 801.19,525.98 806.08,552.93 810.98,552.93 815.87,542.15 820.76,547.54 825.66,542.15 830.55,531.37 835.44,542.15 840.33,542.15 845.23,552.93 850.12,558.32 855.01,558.32 859.91,563.71 864.80,569.10" stroke="#8c564b"/>
<polyline points="160.20,623.00 165.09,623.00 169.99,623.00 174.88,623.00 179.77,623.00 184.67,623.00 189.56,623.00 194.45,623.00 199.34,623.00 204.24,623.00 209.13,623.00 214.02,623.00 218.92,623.00 223.81,623.00 228.70,623.00 233.60,623.00 238.49,623.00 243.38,623.00 248.27,623.00 253.17,623.00 258.06,623.00 262.95,623.00 267.85,623.00 272.74,623.00 277.63,623.00 282.53,623.00 287.42,623.00 292.31,623.00 297.21,623.00 302.10,623.00 306.99,623.00 311.88,623.00 316.78,623.00 321.67,623.00 326.56,623.00 331.46,623.00 336.35,623.00 341.24,596.05 346.14,590.66 351.03,558.32 355.92,542.15 360.82,542.15 365.71,536.76 370.60,520.59 375.49,531.37 380.39,525.98 385.28,558.32 390.17,569.10 395.07,579.88 399.96,590.66 404.85,601.44 409.75,579.88 414.64,558.32 419.53,547.54 424.42,536.76 429.32,509.81 434.21,504.42 439.10,493.64 444.00,482.86 448.89,472.08 453.78,466.69 458.68,472.08 463.57,477.47 468.46,472.08 473.36,472.08 478.25,488.25 483.14,482.86 488.03,482.86 492.93,493.64 497.82,482.86 502.71,488.25 507.61,482.86 512.50,477.47 517.39,461.30 522.29,455.91 527.18,477.47 532.07,472.08 536.97,504.42 541.86,499.03 546.75,499.03 551.64,488.25 556.54,488.25 561.43,472.08 566.32,493.64 571.22,466.69 576.11,455.91 581.00,461.30 585.90,488.25 590.79,450.52 595.68,445.13 600.57,418.18 605.47,418.18 610.36,434.35 615.25,407.40 620.15,402.01 625.04,407.40 629.93,391.23 634.83,407.40 639.72,407.40 644.61,407.40 649.51,428.96 654.40,385.84 659.29,412.79 664.18,402.01 669.08,402.01 673.97,385.84 678.86,380.45 683.76,385.84 688.65,396.62 693.54,375.06 698.44,375.06 703.33,391.23 708.22,418.18 713.12,407.40 718.01,407.40 722.90,412.79 727.79,439.74 732.69,423.57 737.58,439.74 742.47,445.13 747.37,450.52 752.26,450.52 757.15,466.69 762.05,472.08 766.94,504.42 771.83,509.81 776.72,531.37 781.62,531.37 786.51,536.76 791.40,542.15 796.30,542.15 801.19,547.54 806.08,552.93 810.98,563.71 815.87,563.71 820.76,574.49 825.66,574.49 830.55,579.88 835.44,579.88 840.33,579.88 845.23,590.66 850.12,596.05 855.01,579.88 859.91,596.05 864.80,601.44" stroke="#e377c2"/>
<polyline points="160.20,623.00 165.09,623.00 169.99,623.00 174.88,623.00 179.77,623.00 184.67,623.00 189.56,623.00 194.45,623.00 199.34,623.00 204.24,623.00 209.13,623.00 214.02,623.00 218.92,623.00 223.81,623.00 228.70,623.00 233.60,623.00 238.49,623.00 243.38,623.00 248.27,623.00 253.17,623.00 258.06,623.00 262.95,623.00 267.85,623.00 272.74,623.00 277.63,623.00 282.53,623.00 287.42,623.00 292.31,623.00 297.21,623.00 302.10,623.00 306.99,623.00 311.88,623.00 316.78,623.00 321.67,623.00 326.56,623.00 331.46,623.00 336.35,623.00 341.24,585.27 346.14,563.71 351.03,558.32 355.92,552.93 360.82,542.15 365.71,525.98 370.60,531.37 375.49,536.76 380.39,558.32 385.28,558.32 390.17,569.10 395.07,563.71 399.96,558.32 404.85,558.32 409.75,558.32 414.64,542.15 419.53,531.37 424.42,520.59 429.32,542.15 434.21,525.98 439.10,531.37 444.00,536.76 448.89,531.37 453.78,536.76 458.68,542.15 463.57,531.37 468.46,520.59 473.36,504.42 478.25,515.20 483.14,515.20 488.03,520.59 492.93,509.81 497.82,509.81 502.71,509.81 507.61,531.37 512.50,531.37 517.39,531.37 522.29,520.59 527.18,525.98 532.07,536.76 536.97,509.81 541.86,509.81 546.75,504.42 551.64,504.42 556.54,509.81 561.43,488.25 566.32,509.81 571.22,482.86 576.11,488.25 581.00,520.59 585.90,509.81 590.79,455.91 595.68,455.91 600.57,450.52 605.47,428.96 610.36,428.96 615.25,434.35 620.15,418.18 625.04,445.13 629.93,439.74 634.83,455.91 639.72,407.40 644.61,396.62 649.51,380.45 654.40,369.67 659.29,353.50 664.18,337.33 669.08,331.94 673.97,337.33 678.86,342.72 683.76,321.16 688.65,342.72 693.54,364.28 698.44,380.45 703.33,391.23 708.22,402.01 713.12,407.40 718.01,418.18 722.90,428.96 727.79,461.30 732.69,472.08 737.58,504.42 742.47,493.64 747.37,488.25 752.26,509.81 757.15,488.25 762.05,493.64 766.94,504.42 771.83,531.37 776.72,515.20 781.62,509.81 786.51,531.37 791.40,509.81 796.30,536.76 801.19,547.54 806.08,542.15 810.98,547.54 815.87,547.54 820.76,563.71 825.66,558.32 830.55,563.71 835.44,574.49 840.33,590.66 845.23,590.66 850.12,590.66 855.01,596.05 859.91,606.83 864.80,612.22" stroke="#7f7f7f"/>
<polyline points="160.20,623.00 165.09,623.00 169.99,623.00 174.88,623.00 179.77,623.00 184.67,623.00 189.56,623.00 194.45,623.00 199.34,623.00 204.24,623.00 209.13,623.00 214.02,623.00 218.92,623.00 223.81,623.00 228.70,623.00 233.60,623.00 238.49,623.00 243.38,623.00 248.27,623.00 253.17,623.00 258.06,623.00 262.95,623.00 267.85,623.00 272.74,623.00 277.63,623.00 282.53,623.00 287.42,623.00 292.31,623.00 297.21,623.00 302.10,623.00 306.99,623.00 311.88,623.00 316.78,623.00 321.67,623.00 326.56,623.00 331.46,623.00 336.35,623.00 341.24,585.27 346.14,547.54 351.03,525.98 355.92,520.59 360.82,520.59 365.71,525.98 370.60,531.37 375.49,536.76 380.39,542.15 385.28,542.15 390.17,542.15 395.07,520.59 399.96,520.59 404.85,520.59 409.75,515.20 414.64,499.03 419.53,477.47 424.42,461.30 429.32,472.08 434.21,455.91 439.10,455.91 444.00,455.91 448.89,445.13 453.78,450.52 458.68,450.52 463.57,455.91 468.46,455.91 473.36,466.69 478.25,461.30 483.14,461.30 488.03,466.69 492.93,477.47 497.82,482.86 502.71,493.64 507.61,493.64 512.50,472.08 517.39,477.47 522.29,461.30 527.18,482.86 532.07,482.86 536.97,472.08 541.86,461.30 546.75,461.30 551.64,439.74 556.54,428.96 561.43,423.57 566.32,423.57 571.22,407.40 576.11,412.79 581.00,407.40 585.90,391.23 590.79,380.45 595.68,407.40 600.57,402.01 605.47,402.01 610.36,391.23 615.25,407.40 620.15,402.01 625.04,342.72 629.93,364.28 634.83,391.23 639.72,380.45 644.61,380.45 649.51,391.23 654.40,412.79 659.29,434.35 664.18,418.18 669.08,434.35 673.97,423.57 678.86,418.18 683.76,418.18 688.65,380.45 693.54,391.23 698.44,364.28 703.33,369.67 708.22,375.06 713.12,380.45 718.01,396.62 722.90,396.62 727.79,396.62 732.69,391.23 737.58,396.62 742.47,412.79 747.37,423.57 752.26,428.96 757.15,434.35 762.05,434.35 766.94,439.74 771.83,439.74 776.72,439.74 781.62,439.74 786.51,439.74 791.40,439.74 796.30,445.13 801.19,445.13 806.08,445.13 810.98,445.13 815.87,445.13 820.76,455.91 825.66,455.91 830.55,472.08 835.44,504.42 840.33,504.42 845.23,520.59 850.12,536.76 855.01,547.54 859.91,558.32 864.80,569.10" stroke="#bcbd22"/>
<polyline points="160.20,623.00 165.09,623.00 169.99,623.00 174.88,623.00 179.77,623.00 184.67,623.00 189.56,623.00 194.45,623.00 199.34,623.00 204.24,623.00 209.13,623.00 214.02,623.00 218.92,623.00 223.81,623.00 228.70,623.00 233.60,623.00 238.49,623.00 243.38,623.00 248.27,623.00 253.17,623.00 258.06,623.00 262.95,623.00 267.85,623.00 272.74,623.00 277.63,623.00 282.53,623.00 287.42,623.00 292.31,623.00 297.21,623.00 302.10,623.00 306.99,623.00 311.88,623.00 316.78,623.00 321.67,623.00 326.56,623.00 331.46,623.00 336.35,623.00 341.24,596.05 346.14,569.10 351.03,552.93 355.92,552.93 360.82,547.54 365.71,531.37 370.60,531.37 375.49,531.37 380.39,547.54 385.28,547.54 390.17,542.15 395.07,542.15 399.96,536.76 404.85,531.37 409.75,515.20 414.64,509.81 419.53,499.03 424.42,477.47 429.32,472.08 434.21,461.30 439.10,455.91 444.00,450.52 448.89,434.35 453.78,439.74 458.68,439.74 463.57,428.96 468.46,439.74 473.36,434.35 478.25,439.74 483.14,455.91 488.03,461.30 492.93,461.30 497.82,472.08 502.71,455.91 507.61,445.13 512.50,445.13 517.39,445.13 522.29,434.35 527.18,445.13 532.07,450.52 536.97,450.52 541.86,450.52 546.75,445.13 551.64,439.74 556.54,412.79 561.43,423.57 566.32,418.18 571.22,412.79 576.11,407.40 581.00,380.45 585.90,375.06 590.79,385.84 595.68,348.11 600.57,364.28 605.47,375.06 610.36,380.45 615.25,380.45 620.15,369.67 625.04,375.06 629.93,380.45 634.83,385.84 639.72,385.84 644.61,385.84 649.51,385.84 654.40,391.23 659.29,385.84 664.18,375.06 669.08,391.23 673.97,396.62 678.86,396.62 683.76,391.23 688.65,391.23 693.54,385.84 698.44,385.84 703.33,418.18 708.22,439.74 713.12,412.79 718.01,428.96 722.90,418.18 727.79,428.96 732.69,423.57 737.58,412.79 742.47,439.74 747.37,428.96 752.26,445.13 757.15,439.74 762.05,434.35 766.94,439.74 771.83,450.52 776.72,472.08 781.62,466.69 786.51,472.08 791.40,482.86 796.30,477.47 801.19,482.86 806.08,515.20 810.98,509.81 815.87,509.81 820.76,504.42 825.66,515.20 830.55,520.59 835.44,531.37 840.33,536.76 845.23,542.15 850.12,563.71 855.01,563.71 859.91,569.10 864.80,569.10" stroke="#17becf"/>
<polyline points="160.20,623.00 165.09,623.00 169.99,623.00 174.88,623.00 179.77,623.00 184.67,623.00 189.56,623.00 194.45,623.00 199.34,623.00 204.24,623.00 209.13,623.00 214.02,623.00 218.92,623.00 223.81,623.00 228.70,623.00 233.60,623.00 238.49,623.00 243.38,623.00 248.27,623.00 253.17,623.00 258.06,623.00 262.95,623.00 267.85,623.00 272.74,623.00 277.63,623.00 282.53,623.00 287.42,623.00 292.31,623.00 297.21,623.00 302.10,623.00 306.99,623.00 311.88,623.00 316.78,623.00 321.67,623.00 326.56,623.00 331.46,623.00 336.35,623.00 341.24,606.83 346.14,606.83 351.03,601.44 355.92,579.88 360.82,574.49 365.71,552.93 370.60,569.10 375.49,563.71 380.39,569.10 385.28,585.27 390.17,585.27 395.07,569.10 399.96,563.71 404.85,569.10 409.75,558.32 414.64,558.32 419.53,552.93 424.42,542.15 429.32,536.76 434.21,531.37 439.10,531.37 444.00,525.98 448.89,542.15 453.78,542.15 458.68,536.76 463.57,515.20 468.46,531.37 473.36,536.76 478.25,531.37 483.14,515.20 488.03,536.76 492.93,531.37 497.82,531.37 502.71,515.20 507.61,520.59 512.50,525.98 517.39,531.37 522.29,531.37 527.18,531.37 532.07,536.76 536.97,536.76 541.86,542.15 546.75,531.37 551.64,531.37 556.54,515.20 561.43,536.76 566.32,509.81 571.22,504.42 576.11,493.64 581.00,504.42 585.90,515.20 590.79,509.81 595.68,482.86 600.57,482.86 605.47,488.25 610.36,493.64 615.25,482.86 620.15,482.86 625.04,499.03 629.93,482.86 634.83,461.30 639.72,450.52 644.61,466.69 649.51,461.30 654.40,434.35 659.29,450.52 664.18,450.52 669.08,450.52 673.97,434.35 678.86,428.96 683.76,461.30 688.65,461.30 693.54,477.47 698.44,477.47 703.33,477.47 708.22,477.47 713.12,477.47 718.01,482.86 722.90,488.25 727.79,499.03 732.69,493.64 737.58,504.42 742.47,509.81 747.37,509.81 752.26,515.20 757.15,520.59 762.05,531.37 766.94,542.15 771.83,552.93 776.72,563.71 781.62,563.71 786.51,569.10 791.40,574.49 796.30,579.88 801.19,585.27 806.08,590.66 810.98,596.05 815.87,601.44 820.76,601.44 825.66,601.44 830.55,601.44 835.44,601.44 840.33,601.44 845.23,601.44 850.12,601.44 855.01,601.44 859.91,601.44 864.80,601.44" stroke="#1f77b4"/>
<polyline points="160.20,623.00 165.09,623.00 169.99,623.00 174.88,623.00 179.77,623.00 184.67,623.00 189.56,623.00 194.45,623.00 199.34,623.00 204.24,623.00 209.13,623.00 214.02,623.00 218.92,623.00 223.81,623.00 228.70,623.00 233.60,623.00 238.49,623.00 243.38,623.00 248.27,623.00 253.17,623.00 258.06,623.00 262.95,623.00 267.85,623.00 272.74,623.00 277.63,623.00 282.53,623.00 287.42,623.00 292.31,623.00 297.21,623.00 302.10,623.00 306.99,623.00 311.88,623.00 316.78,623.00 321.67,623.00 326.56,623.00 331.46,623.00 336.35,623.00 341.24,612.22 346.14,590.66 351.03,590.66 355.92,574.49 360.82,563.71 365.71,558.32 370.60,552.93 375.49,536.76 380.39,536.76 385.28,531.37 390.17,525.98 395.07,525.98 399.96,525.98 404.85,525.98 409.75,509.81 414.64,504.42 419.53,482.86 424.42,482.86 429.32,482.86 434.21,477.47 439.10,466.69 444.00,466.69 448.89,477.47 453.78,450.52 458.68,450.52 463.57,461.30 468.46,445.13 473.36,445.13 478.25,450.52 483.14,455.91 488.03,466.69 492.93,455.91 497.82,466.69 502.71,450.52 507.61,466.69 512.50,482.86 517.39,472.08 522.29,488.25 527.18,472.08 532.07,466.69 536.97,472.08 541.86,482.86 546.75,482.86 551.64,488.25 556.54,488.25 561.43,477.47 566.32,472.08 571.22,466.69 576.11,472.08 581.00,477.47 585.90,466.69 590.79,461.30 595.68,466.69 600.57,472.08 605.47,439.74 610.36,472.08 615.25,461.30 620.15,461.30 625.04,445.13 629.93,445.13 634.83,445.13 639.72,455.91 644.61,434.35 649.51,439.74 654.40,455.91 659.29,455.91 664.18,455.91 669.08,493.64 673.97,499.03 678.86,493.64 683.76,488.25 688.65,385.84 693.54,375.06 698.44,364.28 703.33,353.50 708.22,342.72 713.12,358.89 718.01,375.06 722.90,385.84 727.79,369.67 732.69,380.45 737.58,396.62 742.47,407.40 747.37,493.64 752.26,488.25 757.15,488.25 762.05,461.30 766.94,455.91 771.83,439.74 776.72,439.74 781.62,461.30 786.51,461.30 791.40,477.47 796.30,472.08 801.19,477.47 806.08,488.25 810.98,493.64 815.87,525.98 820.76,515.20 825.66,515.20 830.55,531.37 835.44,515.20 840.33,542.15 845.23,536.76 850.12,547.54 855.01,552.93 859.91,569.10 864.80,569.10" stroke="#ff7f0e"/>
<polyline points="160.20,623.00 165.09,623.00 169.99,623.00 174.88,623.00 179.77,623.00 184.67,623.00 189.56,623.00 194.45,623.00 199.34,623.00 204.24,623.00 209.13,623.00 214.02,623.00 218.92,623.00 223.81,623.00 228.70,623.00 233.60,623.00 238.49,623.00 243.38,623.00 248.27,623.00 253.17,623.00 258.06,623.00 262.95,623.00 267.85,623.00 272.74,623.00 277.63,623.00 282.53,623.00 287.42,623.00 292.31,623.00 297.21,623.00 302.10,623.00 306.99,623.00 311.88,623.00 316.78,623.00 321.67,623.00 326.56,623.00 331.46,623.00 336.35,623.00 341.24,612.22 346.14,596.05 351.03,585.27 355.92,542.15 360.82,536.76 365.71,536.76 370.60,536.76 375.49,536.76 380.39,547.54 385.28,558.32 390.17,552.93 395.07,563.71 399.96,542.15 404.85,536.76 409.75,542.15 414.64,515.20 419.53,509.81 424.42,482.86 429.32,482.86 434.21,488.25 439.10,477.47 444.00,477.47 448.89,477.47 453.78,466.69 458.68,466.69 463.57,466.69 468.46,461.30 473.36,455.91 478.25,461.30 483.14,461.30 488.03,466.69 492.93,455.91 497.82,461.30 502.71,466.69 507.61,488.25 512.50,504.42 517.39,504.42 522.29,499.03 527.18,509.81 532.07,509.81 536.97,520.59 541.86,509.81 546.75,504.42 551.64,504.42 556.54,472.08 561.43,482.86 566.32,450.52 571.22,455.91 576.11,455.91 581.00,466.69 585.90,466.69 590.79,428.96 595.68,402.01 600.57,380.45 605.47,353.50 610.36,337.33 615.25,331.94 620.15,342.72 625.04,348.11 629.93,353.50 634.83,358.89 639.72,364.28 644.61,375.06 649.51,385.84 654.40,428.96 659.29,407.40 664.18,412.79 669.08,423.57 673.97,423.57 678.86,423.57 683.76,434.35 688.65,439.74 693.54,423.57 698.44,423.57 703.33,439.74 708.22,439.74 713.12,445.13 718.01,461.30 722.90,466.69 727.79,482.86 732.69,445.13 737.58,439.74 742.47,428.96 747.37,407.40 752.26,407.40 757.15,407.40 762.05,434.35 766.94,445.13 771.83,466.69 776.72,472.08 781.62,488.25 786.51,488.25 791.40,509.81 796.30,509.81 801.19,504.42 806.08,520.59 810.98,547.54 815.87,552.93 820.76,552.93 825.66,552.93 830.55,569.10 835.44,579.88 840.33,585.27 845.23,590.66 850.12,590.66 855.01,596.05 859.91,601.44 864.80,590.66" stroke="#2ca02c"/>
<polyline points="160.20,623.00 165.09,623.00 169.99,623.00 174.88,623.00 179.77,623.00 184.67,623.00 189.56,623.00 194.45,623.00 199.34,623.00 204.24,623.00 209.13,623.00 214.02,623.00 218.92,623.00 223.81,623.00 228.70,623.00 233.60,623.00 238.49,623.00 243.38,623.00 248.27,623.00 253.17,623.00 258.06,623.00 262.95,623.00 267.85,623.00 272.74,623.00 277.63,623.00 282.53,623.00 287.42,623.00 292.31,623.00 297.21,623.00 302.10,623.00 306.99,623.00 311.88,623.00 316.78,623.00 321.67,623.00 326.56,623.00 331.46,623.00 336.35,623.00 341.24,590.66 346.14,563.71 351.03,552.93 355.92,531.37 360.82,547.54 365.71,536.76 370.60,531.37 375.49,536.76 380.39,531.37 385.28,525.98 390.17,531.37 395.07,515.20 399.96,515.20 404.85,504.42 409.75,493.64 414.64,466.69 419.53,499.03 424.42,482.86 429.32,472.08 434.21,499.03 439.10,493.64 444.00,504.42 448.89,509.81 453.78,504.42 458.68,515.20 463.57,509.81 468.46,515.20 473.36,504.42 478.25,509.81 483.14,509.81 488.03,493.64 492.93,499.03 497.82,504.42 502.71,504.42 507.61,504.42 512.50,472.08 517.39,482.86 522.29,477.47 527.18,472.08 532.07,466.69 536.97,455.91 541.86,455.91 546.75,455.91 551.64,439.74 556.54,434.35 561.43,418.18 566.32,412.79 571.22,396.62 576.11,396.62 581.00,369.67 585.90,375.06 590.79,380.45 595.68,369.67 600.57,369.67 605.47,380.45 610.36,375.06 615.25,331.94 620.15,348.11 625.04,348.11 629.93,353.50 634.83,380.45 639.72,380.45 644.61,364.28 649.51,396.62 654.40,402.01 659.29,380.45 664.18,402.01 669.08,402.01 673.97,402.01 678.86,407.40 683.76,412.79 688.65,407.40 693.54,418.18 698.44,412.79 703.33,396.62 708.22,407.40 713.12,418.18 718.01,439.74 722.90,434.35 727.79,428.96 732.69,428.96 737.58,428.96 742.47,423.57 747.37,428.96 752.26,445.13 757.15,428.96 762.05,445.13 766.94,434.35 771.83,434.35 776.72,439.74 781.62,466.69 786.51,461.30 791.40,472.08 796.30,504.42 801.19,504.42 806.08,509.81 810.98,515.20 815.87,504.42 820.76,504.42 825.66,536.76 830.55,536.76 835.44,552.93 840.33,552.93 845.23,563.71 850.12,574.49 855.01,574.49 859.91,579.88 864.80,569.10" stroke="#d62728"/>
<polyline points="160.20,623.00 165.09,623.00 169.99,623.00 174.88,623.00 179.77,623.00 184.67,623.00 189.56,623.00 194.45,623.00 199.34,623.00 204.24,623.00 209.13,623.00 214.02,623.00 218.92,623.00 223.81,623.00 228.70,623.00 233.60,623.00 238.49,623.00 243.38,623.00 248.27,623.00 253.17,623.00 258.06,623.00 262.95,623.00 267.85,623.00 272.74,623.00 277.63,623.00 282.53,623.00 287.42,623.00 292.31,623.00 297.21,623.00 302.10,623.00 306.99,623.00 311.88,623.00 316.78,623.00 321.67,623.00 326.56,623.00 331.46,623.00 336.35,623.00 341.24,606.83 346.14,606.83 351.03,601.44 355.92,574.49 360.82,563.71 365.71,563.71 370.60,563.71 375.49,563.71 380.39,558.32 385.28,563.71 390.17,563.71 395.07,563.71 399.96,558.32 404.85,547.54 409.75,531.37 414.64,531.37 419.53,515.20 424.42,515.20 429.32,509.81 434.21,509.81 439.10,504.42 444.00,493.64 448.89,499.03 453.78,493.64 458.68,472.08 463.57,472.08 468.46,482.86 473.36,493.64 478.25,504.42 483.14,520.59 488.03,520.59 492.93,531.37 497.82,520.59 502.71,515.20 507.61,531.37 512.50,531.37 517.39,520.59 522.29,520.59 527.18,520.59 532.07,520.59 536.97,525.98 541.86,515.20 546.75,520.59 551.64,493.64 556.54,499.03 561.43,450.52 566.32,428.96 571.22,434.35 576.11,445.13 581.00,434.35 585.90,428.96 590.79,407.40 595.68,418.18 600.57,412.79 605.47,396.62 610.36,402.01 615.25,418.18 620.15,418.18 625.04,445.13 629.93,439.74 634.83,455.91 639.72,450.52 644.61,445.13 649.51,439.74 654.40,439.74 659.29,439.74 664.18,461.30 669.08,428.96 673.97,434.35 678.86,450.52 683.76,445.13 688.65,445.13 693.54,428.96 698.44,423.57 703.33,423.57 708.22,412.79 713.12,418.18 718.01,428.96 722.90,391.23 727.79,412.79 732.69,407.40 737.58,391.23 742.47,391.23 747.37,385.84 752.26,385.84 757.15,396.62 762.05,428.96 766.94,428.96 771.83,461.30 776.72,445.13 781.62,450.52 786.51,450.52 791.40,466.69 796.30,455.91 801.19,466.69 806.08,472.08 810.98,472.08 815.87,482.86 820.76,488.25 825.66,488.25 830.55,509.81 835.44,536.76 840.33,536.76 845.23,542.15 850.12,547.54 855.01,569.10 859.91,579.88 864.80,579.88" stroke="#9467bd"/>
<polyline points="160.20,623.00 165.09,623.00 169.99,623.00 174.88,623.00 179.77,623.00 184.67,623.00 189.56,623.00 194.45,623.00 199.34,623.00 204.24,623.00 209.13,623.00 214.02,623.00 218.92,623.00 223.81,623.00 228.70,623.00 233.60,623.00 238.49,623.00 243.38,623.00 248.27,623.00 253.17,623.00 258.06,623.00 262.95,623.00 267.85,623.00 272.74,623.00 277.63,623.00 282.53,623.00 287.42,623.00 292.31,623.00 297.21,623.00 302.10,623.00 306.99,623.00 311.88,623.00 316.78,623.00 321.67,623.00 326.56,623.00 331.46,623.00 336.35,623.00 341.24,596.05 346.14,558.32 351.03,542.15 355.92,531.37 360.82,525.98 365.71,515.20 370.60,515.20 375.49,515.20 380.39,531.37 385.28,525.98 390.17,520.59 395.07,525.98 399.96,515.20 404.85,520.59 409.75,515.20 414.64,515.20 419.53,504.42 424.42,499.03 429.32,499.03 434.21,515.20 439.10,509.81 444.00,520.59 448.89,515.20 453.78,509.81 458.68,509.81 463.57,509.81 468.46,504.42 473.36,504.42 478.25,504.42 483.14,488.25 488.03,477.47 492.93,482.86 497.82,477.47 502.71,466.69 507.61,466.69 512.50,466.69 517.39,466.69 522.29,466.69 527.18,461.30 532.07,472.08 536.97,477.47 541.86,482.86 546.75,466.69 551.64,445.13 556.54,450.52 561.43,445.13 566.32,434.35 571.22,412.79 576.11,402.01 581.00,396.62 585.90,418.18 590.79,418.18 595.68,423.57 600.57,423.57 605.47,412.79 610.36,418.18 615.25,396.62 620.15,418.18 625.04,396.62 629.93,407.40 634.83,407.40 639.72,445.13 644.61,439.74 649.51,461.30 654.40,455.91 659.29,466.69 664.18,455.91 669.08,455.91 673.97,418.18 678.86,412.79 683.76,391.23 688.65,402.01 693.54,375.06 698.44,391.23 703.33,375.06 708.22,385.84 713.12,385.84 718.01,391.23 722.90,428.96 727.79,434.35 732.69,434.35 737.58,428.96 742.47,434.35 747.37,439.74 752.26,423.57 757.15,439.74 762.05,434.35 766.94,439.74 771.83,461.30 776.72,466.69 781.62,482.86 786.51,488.25 791.40,499.03 796.30,515.20 801.19,520.59 806.08,531.37 810.98,552.93 815.87,558.32 820.76,542.15 825.66,563.71 830.55,558.32 835.44,547.54 840.33,542.15 845.23,542.15 850.12,563.71 855.01,569.10 859.91,574.49 864.80,590.66" stroke="#8c564b"/>
<polyline points="160.20,623.00 165.09,623.00 169.99,623.00 174.88,623.00 179.77,623.00 184.67,623.00 189.56,623.00 194.45,623.00 199.34,623.00 204.24,623.00 209.13,623.00 214.02,623.00 218.92,623.00 223.81,623.00 228.70,623.00 233.60,623.00 238.49,623.00 243.38,623.00 248.27,623.00 253.17,623.00 258.06,623.00 262.95,623.00 267.85,623.00 272.74,623.00 277.63,623.00 282.53,623.00 287.42,623.00 292.31,623.00 297.21,623.00 302.10,623.00 306.99,623.00 311.88,623.00 316.78,623.00 321.67,623.00 326.56,623.00 331.46,623.00 336.35,623.00 341.24,601.44 346.14,574.49 351.03,574.49 355.92,574.49 360.82,563.71 365.71,552.93 370.60,569.10 375.49,569.10 380.39,563.71 385.28,563.71 390.17,569.10 395.07,563.71 399.96,552.93 404.85,536.76 409.75,547.54 414.64,558.32 419.53,531.37 424.42,536.76 429.32,531.37 434.21,531.37 439.10,504.42 444.00,499.03 448.89,488.25 453.78,477.47 458.68,472.08 463.57,472.08 468.46,482.86 473.36,509.81 478.25,509.81 483.14,520.59 488.03,509.81 492.93,515.20 497.82,536.76 502.71,536.76 507.61,536.76 512.50,536.76 517.39,531.37 522.29,536.76 527.18,531.37 532.07,499.03 536.97,515.20 541.86,520.59 546.75,509.81 551.64,499.03 556.54,525.98 561.43,504.42 566.32,493.64 571.22,499.03 576.11,482.86 581.00,499.03 585.90,493.64 590.79,482.86 595.68,466.69 600.57,466.69 605.47,466.69 610.36,466.69 615.25,482.86 620.15,428.96 625.04,439.74 629.93,455.91 634.83,445.13 639.72,445.13 644.61,434.35 649.51,439.74 654.40,461.30 659.29,450.52 664.18,461.30 669.08,466.69 673.97,466.69 678.86,461.30 683.76,455.91 688.65,461.30 693.54,477.47 698.44,450.52 703.33,450.52 708.22,482.86 713.12,455.91 718.01,466.69 722.90,477.47 727.79,472.08 732.69,472.08 737.58,472.08 742.47,472.08 747.37,482.86 752.26,477.47 757.15,445.13 762.05,455.91 766.94,466.69 771.83,466.69 776.72,466.69 781.62,472.08 786.51,504.42 791.40,488.25 796.30,509.81 801.19,477.47 806.08,488.25 810.98,493.64 815.87,499.03 820.76,504.42 825.66,520.59 830.55,525.98 835.44,536.76 840.33,547.54 845.23,552.93 850.12,569.10 855.01,569.10 859.91,590.66 864.80,590.66" stroke="#e377c2"/>
<polyline points="160.20,623.00 165.09,623.00 169.99,623.00 174.88,623.00 179.77,623.00 184.67,623.00 189.56,623.00 194.45,623.00 199.34,623.00 204.24,623.00 209.13,623.00 214.02,623.00 218.92,623.00 223.81,623.00 228.70,623.00 233.60,623.00 238.49,623.00 243.38,623.00 248.27,623.00 253.17,623.00 258.06,623.00 262.95,623.00 267.85,623.00 272.74,623.00 277.63,623.00 282.53,623.00 287.42,623.00 292.31,623.00 297.21,623.00 302.10,623.00 306.99,623.00 311.88,623.00 316.78,623.00 321.67,623.00 326.56,623.00 331.46,623.00 336.35,623.00 341.24,590.66 346.14,574.49 351.03,531.37 355.92,531.37 360.82,531.37 365.71,531.37 370.60,531.37 375.49,536.76 380.39,547.54 385.28,542.15 390.17,563.71 395.07,547.54 399.96,542.15 404.85,509.81 409.75,515.20 414.64,515.20 419.53,504.42 424.42,504.42 429.32,493.64 434.21,499.03 439.10,499.03 444.00,493.64 448.89,488.25 453.78,477.47 458.68,472.08 463.57,477.47 468.46,477.47 473.36,466.69 478.25,466.69 483.14,477.47 488.03,488.25 492.93,488.25 497.82,499.03 502.71,493.64 507.61,482.86 512.50,482.86 517.39,499.03 522.29,509.81 527.18,504.42 532.07,499.03 536.97,499.03 541.86,488.25 546.75,493.64 551.64,499.03 556.54,499.03 561.43,488.25 566.32,466.69 571.22,477.47 576.11,488.25 581.00,488.25 585.90,477.47 590.79,482.86 595.68,466.69 600.57,455.91 605.47,434.35 610.36,412.79 615.25,407.40 620.15,423.57 625.04,418.18 629.93,439.74 634.83,450.52 639.72,450.52 644.61,450.52 649.51,466.69 654.40,455.91 659.29,455.91 664.18,455.91 669.08,455.91 673.97,466.69 678.86,423.57 683.76,450.52 688.65,439.74 693.54,439.74 698.44,450.52 703.33,423.57 708.22,439.74 713.12,445.13 718.01,466.69 722.90,477.47 727.79,482.86 732.69,455.91 737.58,461.30 742.47,455.91 747.37,439.74 752.26,445.13 757.15,450.52 762.05,477.47 766.94,504.42 771.83,515.20 776.72,525.98 781.62,536.76 786.51,547.54 791.40,563.71 796.30,579.88 801.19,596.05 806.08,606.83 810.98,612.22 815.87,612.22 820.76,612.22 825.66,612.22 830.55,612.22 835.44,612.22 840.33,612.22 845.23,612.22 850.12,612.22 855.01,612.22 859.91,612.22 864.80,612.22" stroke="#7f7f7f"/>
<polyline points="160.20,623.00 165.09,623.00 169.99,623.00 174.88,623.00 179.77,623.00 184.67,623.00 189.56,623.00 194.45,623.00 199.34,623.00 204.24,623.00 209.13,623.00 214.02,623.00 218.92,623.00 223.81,623.00 228.70,623.00 233.60,623.00 238.49,623.00 243.38,623.00 248.27,623.00 253.17,623.00 258.06,623.00 262.95,623.00 267.85,623.00 272.74,623.00 277.63,623.00 282.53,623.00 287.42,623.00 292.31,623.00 297.21,623.00 302.10,623.00 306.99,623.00 311.88,623.00 316.78,623.00 321.67,623.00 326.56,623.00 331.46,623.00 336.35,623.00 341.24,585.27 346.14,574.49 351.03,552.93 355.92,547.54 360.82,536.76 365.71,536.76 370.60,531.37 375.49,547.54 380.39,547.54 385.28,563.71 390.17,569.10 395.07,569.10 399.96,569.10 404.85,552.93 409.75,558.32 414.64,558.32 419.53,552.93 424.42,542.15 429.32,525.98 434.21,509.81 439.10,504.42 444.00,504.42 448.89,493.64 453.78,493.64 458.68,509.81 463.57,499.03 468.46,493.64 473.36,499.03 478.25,482.86 483.14,466.69 488.03,482.86 492.93,472.08 497.82,466.69 502.71,461.30 507.61,472.08 512.50,482.86 517.39,482.86 522.29,450.52 527.18,472.08 532.07,466.69 536.97,455.91 541.86,466.69 546.75,466.69 551.64,472.08 556.54,472.08 561.43,472.08 566.32,466.69 571.22,461.30 576.11,434.35 581.00,450.52 585.90,445.13 590.79,434.35 595.68,434.35 600.57,450.52 605.47,428.96 610.36,439.74 615.25,450.52 620.15,466.69 625.04,455.91 629.93,461.30 634.83,450.52 639.72,482.86 644.61,455.91 649.51,477.47 654.40,466.69 659.29,472.08 664.18,472.08 669.08,472.08 673.97,488.25 678.86,466.69 683.76,472.08 688.65,461.30 693.54,461.30 698.44,439.74 703.33,445.13 708.22,428.96 713.12,407.40 718.01,412.79 722.90,445.13 727.79,445.13 732.69,450.52 737.58,445.13 742.47,466.69 747.37,466.69 752.26,477.47 757.15,482.86 762.05,504.42 766.94,504.42 771.83,509.81 776.72,515.20 781.62,536.76 786.51,525.98 791.40,542.15 796.30,558.32 801.19,574.49 806.08,585.27 810.98,590.66 815.87,590.66 820.76,590.66 825.66,590.66 830.55,590.66 835.44,590.66 840.33,590.66 845.23,590.66 850.12,590.66 855.01,590.66 859.91,590.66 864.80,590.66" stroke="#bcbd22"/>
<polyline points="160.20,623.00 165.09,623.00 169.99,623.00 174.88,623.00 179.77,623.00 184.67,623.00 189.56,623.00 194.45,623.00 199.34,623.00 204.24,623.00 209.13,623.00 214.02,623.00 218.92,623.00 223.81,623.00 228.70,623.00 233.60,623.00 238.49,623.00 243.38,623.00 248.27,623.00 253.17,623.00 258.06,623.00 262.95,623.00 267.85,623.00 272.74,623.00 277.63,623.00 282.53,623.00 287.42,623.00 292.31,623.00 297.21,623.00 302.10,623.00 306.99,623.00 311.88,623.00 316.78,623.00 321.67,623.00 326.56,623.00 331.46,623.00 336.35,623.00 341.24,585.27 346.14,574.49 351.03,525.98 355.92,520.59 360.82,525.98 365.71,520.59 370.60,509.81 375.49,509.81 380.39,515.20 385.28,520.59 390.17,520.59 395.07,520.59 399.96,499.03 404.85,504.42 409.75,493.64 414.64,488.25 419.53,482.86 424.42,482.86 429.32,477.47 434.21,472.08 439.10,450.52 444.00,455.91 448.89,472.08 453.78,472.08 458.68,466.69 463.57,455.91 468.46,466.69 473.36,450.52 478.25,461.30 483.14,445.13 488.03,439.74 492.93,445.13 497.82,450.52 502.71,455.91 507.61,461.30 512.50,472.08 517.39,477.47 522.29,466.69 527.18,472.08 532.07,466.69 536.97,455.91 541.86,455.91 546.75,455.91 551.64,455.91 556.54,466.69 561.43,461.30 566.32,466.69 571.22,472.08 576.11,499.03 581.00,461.30 585.90,461.30 590.79,461.30 595.68,439.74 600.57,434.35 605.47,418.18 610.36,364.28 615.25,369.67 620.15,380.45 625.04,364.28 629.93,396.62 634.83,407.40 639.72,428.96 644.61,428.96 649.51,418.18 654.40,445.13 659.29,472.08 664.18,461.30 669.08,423.57 673.97,428.96 678.86,450.52 683.76,450.52 688.65,488.25 693.54,482.86 698.44,488.25 703.33,488.25 708.22,482.86 713.12,477.47 718.01,466.69 722.90,455.91 727.79,455.91 732.69,450.52 737.58,434.35 742.47,461.30 747.37,461.30 752.26,466.69 757.15,445.13 762.05,445.13 766.94,455.91 771.83,455.91 776.72,461.30 781.62,445.13 786.51,466.69 791.40,466.69 796.30,482.86 801.19,482.86 806.08,482.86 810.98,488.25 815.87,499.03 820.76,499.03 825.66,504.42 830.55,509.81 835.44,515.20 840.33,525.98 845.23,531.37 850.12,547.54 855.01,552.93 859.91,552.93 864.80,569.10" stroke="#17becf"/>
<polyline points="160.20,623.00 165.09,623.00 169.99,623.00 174.88,623.00 179.77,623.00 184.67,623.00 189.56,623.00 194.45,623.00 199.34,623.00 204.24,623.00 209.13,623.00 214.02,623.00 218.92,623.00 223.81,623.00 228.70,623.00 233.60,623.00 238.49,623.00 243.38,623.00 248.27,623.00 253.17,623.00 258.06,623.00 262.95,623.00 267.85,623.00 272.74,623.00 277.63,623.00 282.53,623.00 287.42,623.00 292.31,623.00 297.21,623.00 302.10,623.00 306.99,623.00 311.88,623.00 316.78,623.00 321.67,623.00 326.56,623.00 331.46,623.00 336.35,623.00 341.24,612.22 346.14,596.05 351.03,536.76 355.92,531.37 360.82,536.76 365.71,515.20 370.60,520.59 375.49,515.20 380.39,515.20 385.28,520.59 390.17,520.59 395.07,520.59 399.96,515.20 404.85,509.81 409.75,493.64 414.64,466.69 419.53,493.64 424.42,477.47 429.32,466.69 434.21,466.69 439.10,466.69 444.00,488.25 448.89,482.86 453.78,515.20 458.68,509.81 463.57,488.25 468.46,482.86 473.36,488.25 478.25,499.03 483.14,509.81 488.03,509.81 492.93,509.81 497.82,504.42 502.71,499.03 507.61,482.86 512.50,482.86 517.39,482.86 522.29,472.08 527.18,472.08 532.07,499.03 536.97,477.47 541.86,477.47 546.75,466.69 551.64,461.30 556.54,461.30 561.43,445.13 566.32,450.52 571.22,445.13 576.11,439.74 581.00,402.01 585.90,412.79 590.79,407.40 595.68,396.62 600.57,418.18 605.47,391.23 610.36,402.01 615.25,418.18 620.15,412.79 625.04,407.40 629.93,402.01 634.83,385.84 639.72,396.62 644.61,396.62 649.51,358.89 654.40,358.89 659.29,342.72 664.18,353.50 669.08,358.89 673.97,353.50 678.86,353.50 683.76,369.67 688.65,348.11 693.54,331.94 698.44,375.06 703.33,375.06 708.22,369.67 713.12,375.06 718.01,358.89 722.90,391.23 727.79,385.84 732.69,380.45 737.58,380.45 742.47,407.40 747.37,396.62 752.26,402.01 757.15,504.42 762.05,509.81 766.94,520.59 771.83,531.37 776.72,542.15 781.62,558.32 786.51,558.32 791.40,563.71 796.30,574.49 801.19,579.88 806.08,585.27 810.98,585.27 815.87,585.27 820.76,585.27 825.66,585.27 830.55,585.27 835.44,590.66 840.33,596.05 845.23,601.44 850.12,606.83 855.01,612.22 859.91,617.61 864.80,617.61" stroke="#1f77b4"/>
<polyline points="160.20,623.00 165.09,623.00 169.99,623.00 174.88,623.00 179.77,623.00 184.67,623.00 189.56,623.00 194.45,623.00 199.34,623.00 204.24,623.00 209.13,623.00 214.02,623.00 218.92,623.00 223.81,623.00 228.70,623.00 233.60,623.00 238.49,623.00 243.38,623.00 248.27,623.00 253.17,623.00 258.06,623.00 262.95,623.00 267.85,623.00 272.74,623.00 277.63,623.00 282.53,623.00 287.42,623.00 292.31,623.00 297.21,623.00 302.10,623.00 306.99,623.00 311.88,623.00 316.78,623.00 321.67,623.00 326.56,623.00 331.46,623.00 336.35,623.00 341.24,585.27 346.14,574.49 351.03,569.10 355.92,531.37 360.82,531.37 365.71,525.98 370.60,531.37 375.49,515.20 380.39,525.98 385.28,531.37 390.17,531.37 395.07,525.98 399.96,499.03 404.85,499.03 409.75,499.03 414.64,488.25 419.53,482.86 424.42,466.69 429.32,472.08 434.21,472.08 439.10,450.52 444.00,477.47 448.89,477.47 453.78,482.86 458.68,466.69 463.57,466.69 468.46,450.52 473.36,450.52 478.25,455.91 483.14,466.69 488.03,466.69 492.93,472.08 497.82,472.08 502.71,482.86 507.61,493.64 512.50,499.03 517.39,504.42 522.29,509.81 527.18,504.42 532.07,499.03 536.97,488.25 541.86,461.30 546.75,466.69 551.64,450.52 556.54,434.35 561.43,455.91 566.32,434.35 571.22,423.57 576.11,423.57 581.00,434.35 585.90,439.74 590.79,472.08 595.68,461.30 600.57,439.74 605.47,445.13 610.36,445.13 615.25,439.74 620.15,428.96 625.04,407.40 629.93,407.40 634.83,402.01 639.72,396.62 644.61,380.45 649.51,385.84 654.40,391.23 659.29,407.40 664.18,412.79 669.08,434.35 673.97,423.57 678.86,407.40 683.76,418.18 688.65,418.18 693.54,412.79 698.44,407.40 703.33,418.18 708.22,418.18 713.12,418.18 718.01,423.57 722.90,439.74 727.79,455.91 732.69,445.13 737.58,428.96 742.47,418.18 747.37,407.40 752.26,391.23 757.15,385.84 762.05,380.45 766.94,385.84 771.83,396.62 776.72,412.79 781.62,428.96 786.51,445.13 791.40,461.30 796.30,536.76 801.19,542.15 806.08,547.54 810.98,552.93 815.87,563.71 820.76,569.10 825.66,579.88 830.55,579.88 835.44,590.66 840.33,596.05 845.23,596.05 850.12,601.44 855.01,596.05 859.91,596.05 864.80,596.05" stroke="#ff7f0e"/>
<polyline points="160.20,623.00 165.09,623.00 169.99,623.00 174.88,623.00 179.77,623.00 184.67,623.00 189.56,623.00 194.45,623.00 199.34,623.00 204.24,623.00 209.13,623.00 214.02,623.00 218.92,623.00 223.81,623.00 228.70,623.00 233.60,623.00 238.49,623.00 243.38,623.00 248.27,623.00 253.17,623.00 258.06,623.00 262.95,623.00 267.85,623.00 272.74,623.00 277.63,623.00 282.53,623.00 287.42,623.00 292.31,623.00 297.21,623.00 302.10,623.00 306.99,623.00 311.88,623.00 316.78,623.00 321.67,623.00 326.56,623.00 331.46,623.00 336.35,623.00 341.24,596.05 346.14,590.66 351.03,574.49 355.92,563.71 360.82,563.71 365.71,563.71 370.60,552.93 375.49,547.54 380.39,552.93 385.28,569.10 390.17,569.10 395.07,569.10 399.96,585.27 404.85,579.88 409.75,563.71 414.64,558.32 419.53,552.93 424.42,531.37 429.32,531.37 434.21,531.37 439.10,531.37 444.00,531.37 448.89,531.37 453.78,525.98 458.68,536.76 463.57,531.37 468.46,520.59 473.36,520.59 478.25,525.98 483.14,525.98 488.03,520.59 492.93,520.59 497.82,525.98 502.71,525.98 507.61,520.59 512.50,525.98 517.39,542.15 522.29,542.15 527.18,542.15 532.07,531.37 536.97,525.98 541.86,531.37 546.75,536.76 551.64,520.59 556.54,520.59 561.43,531.37 566.32,515.20 571.22,515.20 576.11,509.81 581.00,482.86 585.90,450.52 590.79,428.96 595.68,428.96 600.57,418.18 605.47,396.62 610.36,402.01 615.25,402.01 620.15,375.06 625.04,391.23 629.93,412.79 634.83,418.18 639.72,412.79 644.61,412.79 649.51,418.18 654.40,450.52 659.29,461.30 664.18,477.47 669.08,477.47 673.97,455.91 678.86,488.25 683.76,482.86 688.65,396.62 693.54,385.84 698.44,369.67 703.33,353.50 708.22,364.28 713.12,375.06 718.01,358.89 722.90,380.45 727.79,391.23 732.69,396.62 737.58,385.84 742.47,380.45 747.37,380.45 752.26,375.06 757.15,380.45 762.05,380.45 766.94,385.84 771.83,402.01 776.72,412.79 781.62,418.18 786.51,418.18 791.40,428.96 796.30,445.13 801.19,461.30 806.08,558.32 810.98,558.32 815.87,574.49 820.76,574.49 825.66,585.27 830.55,585.27 835.44,590.66 840.33,601.44 845.23,596.05 850.12,596.05 855.01,585.27 859.91,601.44 864.80,596.05" stroke="#2ca02c"/>
<polyline points="160.20,623.00 165.09,623.00 169.99,623.00 174.88,623.00 179.77,623.00 184.67,623.00 189.56,623.00 194.45,623.00 199.34,623.00 204.24,623.00 209.13,623.00 214.02,623.00 218.92,623.00 223.81,623.00 228.70,623.00 233.60,623.00 238.49,623.00 243.38,623.00 248.27,623.00 253.17,623.00 258.06,623.00 262.95,623.00 267.85,623.00 272.74,623.00 277.63,623.00 282.53,623.00 287.42,623.00 292.31,623.00 297.21,623.00 302.10,623.00 306.99,623.00 311.88,623.00 316.78,623.00 321.67,623.00 326.56,623.00 331.46,623.00 336.35,623.00 341.24,590.66 346.14,563.71 351.03,525.98 355.92,536.76 360.82,536.76 365.71,531.37 370.60,531.37 375.49,525.98 380.39,536.76 385.28,536.76 390.17,536.76 395.07,536.76 399.96,531.37 404.85,520.59 409.75,499.03 414.64,499.03 419.53,488.25 424.42,472.08 429.32,472.08 434.21,461.30 439.10,482.86 444.00,472.08 448.89,472.08 453.78,445.13 458.68,450.52 463.57,455.91 468.46,461.30 473.36,477.47 478.25,477.47 483.14,461.30 488.03,466.69 492.93,455.91 497.82,472.08 502.71,455.91 507.61,461.30 512.50,455.91 517.39,455.91 522.29,450.52 527.18,439.74 532.07,450.52 536.97,445.13 541.86,445.13 546.75,439.74 551.64,439.74 556.54,412.79 561.43,412.79 566.32,407.40 571.22,391.23 576.11,391.23 581.00,391.23 585.90,385.84 590.79,385.84 595.68,358.89 600.57,358.89 605.47,380.45 610.36,369.67 615.25,337.33 620.15,337.33 625.04,353.50 629.93,348.11 634.83,375.06 639.72,375.06 644.61,375.06 649.51,342.72 654.40,358.89 659.29,358.89 664.18,364.28 669.08,375.06 673.97,375.06 678.86,407.40 683.76,385.84 688.65,391.23 693.54,380.45 698.44,353.50 703.33,369.67 708.22,391.23 713.12,396.62 718.01,396.62 722.90,407.40 727.79,423.57 732.69,445.13 737.58,445.13 742.47,455.91 747.37,455.91 752.26,477.47 757.15,461.30 762.05,472.08 766.94,455.91 771.83,455.91 776.72,455.91 781.62,450.52 786.51,472.08 791.40,466.69 796.30,472.08 801.19,477.47 806.08,482.86 810.98,499.03 815.87,504.42 820.76,504.42 825.66,520.59 830.55,525.98 835.44,536.76 840.33,536.76 845.23,547.54 850.12,569.10 855.01,569.10 859.91,569.10 864.80,585.27" stroke="#d62728"/>
<polyline points="160.20,623.00 165.09,623.00 169.99,623.00 174.88,623.00 179.77,623.00 184.67,623.00 189.56,623.00 194.45,623.00 199.34,623.00 204.24,623.00 209.13,623.00 214.02,623.00 218.92,623.00 223.81,623.00 228.70,623.00 233.60,623.00 238.49,623.00 243.38,623.00 248.27,623.00 253.17,623.00 258.06,623.00 262.95,623.00 267.85,623.00 272.74,623.00 277.63,623.00 282.53,623.00 287.42,623.00 292.31,623.00 297.21,623.00 302.10,623.00 306.99,623.00 311.88,623.00 316.78,623.00 321.67,623.00 326.56,623.00 331.46,623.00 336.35,623.00 341.24,590.66 346.14,563.71 351.03,558.32 355.92,542.15 360.82,542.15 365.71,536.76 370.60,536.76 375.49,531.37 380.39,536.76 385.28,531.37 390.17,536.76 395.07,542.15 399.96,525.98 404.85,509.81 409.75,499.03 414.64,482.86 419.53,472.08 424.42,455.91 429.32,472.08 434.21,461.30 439.10,488.25 444.00,477.47 448.89,477.47 453.78,472.08 458.68,493.64 463.57,493.64 468.46,499.03 473.36,504.42 478.25,520.59 483.14,542.15 488.03,520.59 492.93,525.98 497.82,525.98 502.71,515.20 507.61,520.59 512.50,520.59 517.39,525.98 522.29,520.59 527.18,515.20 532.07,504.42 536.97,509.81 541.86,515.20 546.75,504.42 551.64,482.86 556.54,504.42 561.43,482.86 566.32,488.25 571.22,493.64 576.11,461.30 581.00,434.35 585.90,450.52 590.79,455.91 595.68,455.91 600.57,455.91 605.47,407.40 610.36,418.18 615.25,466.69 620.15,428.96 625.04,428.96 629.93,450.52 634.83,445.13 639.72,439.74 644.61,428.96 649.51,439.74 654.40,477.47 659.29,461.30 664.18,488.25 669.08,493.64 673.97,477.47 678.86,461.30 683.76,461.30 688.65,461.30 693.54,455.91 698.44,450.52 703.33,472.08 708.22,466.69 713.12,466.69 718.01,450.52 722.90,450.52 727.79,439.74 732.69,434.35 737.58,428.96 742.47,434.35 747.37,455.91 752.26,434.35 757.15,434.35 762.05,455.91 766.94,461.30 771.83,472.08 776.72,488.25 781.62,504.42 786.51,499.03 791.40,493.64 796.30,493.64 801.19,493.64 806.08,515.20 810.98,515.20 815.87,515.20 820.76,542.15 825.66,552.93 830.55,542.15 835.44,558.32 840.33,574.49 845.23,574.49 850.12,563.71 855.01,579.88 859.91,574.49 864.80,585.27" stroke="#9467bd"/>
<polyline points="160.20,623.00 165.09,623.00 169.99,623.00 174.88,623.00 179.77,623.00 184.67,623.00 189.56,623.00 194.45,623.00 199.34,623.00 204.24,623.00 209.13,623.00 214.02,623.00 218.92,623.00 223.81,623.00 228.70,623.00 233.60,623.00 238.49,623.00 243.38,623.00 248.27,623.00 253.17,623.00 258.06,623.00 262.95,623.00 267.85,623.00 272.74,623.00 277.63,623.00 282.53,623.00 287.42,623.00 292.31,623.00 297.21,623.00 302.10,623.00 306.99,623.00 311.88,623.00 316.78,623.00 321.67,623.00 326.56,623.00 331.46,623.00 336.35,623.00 341.24,574.49 346.14,547.54 351.03,531.37 355.92,515.20 360.82,515.20 365.71,525.98 370.60,531.37 375.49,520.59 380.39,531.37 385.28,536.76 390.17,542.15 395.07,552.93 399.96,531.37 404.85,525.98 409.75,520.59 414.64,515.20 419.53,509.81 424.42,509.81 429.32,509.81 434.21,531.37 439.10,515.20 444.00,525.98 448.89,509.81 453.78,504.42 458.68,525.98 463.57,515.20 468.46,520.59 473.36,515.20 478.25,520.59 483.14,525.98 488.03,515.20 492.93,515.20 497.82,509.81 502.71,499.03 507.61,515.20 512.50,504.42 517.39,515.20 522.29,509.81 527.18,509.81 532.07,515.20 536.97,515.20 541.86,509.81 546.75,504.42 551.64,493.64 556.54,482.86 561.43,450.52 566.32,450.52 571.22,439.74 576.11,439.74 581.00,445.13 585.90,455.91 590.79,455.91 595.68,482.86 600.57,477.47 605.47,477.47 610.36,488.25 615.25,477.47 620.15,466.69 625.04,477.47 629.93,455.91 634.83,461.30 639.72,472.08 644.61,472.08 649.51,482.86 654.40,455.91 659.29,450.52 664.18,439.74 669.08,445.13 673.97,434.35 678.86,434.35 683.76,412.79 688.65,428.96 693.54,391.23 698.44,380.45 703.33,364.28 708.22,353.50 713.12,358.89 718.01,358.89 722.90,358.89 727.79,364.28 732.69,364.28 737.58,385.84 742.47,396.62 747.37,445.13 752.26,439.74 757.15,472.08 762.05,472.08 766.94,477.47 771.83,488.25 776.72,488.25 781.62,493.64 786.51,504.42 791.40,499.03 796.30,515.20 801.19,515.20 806.08,520.59 810.98,542.15 815.87,542.15 820.76,558.32 825.66,569.10 830.55,563.71 835.44,585.27 840.33,585.27 845.23,569.10 850.12,579.88 855.01,574.49 859.91,596.05 864.80,601.44" stroke="#8c564b"/>
<polyline points="160.20,623.00 165.09,623.00 169.99,623.00 174.88,623.00 179.77,623.00 184.67,623.00 189.56,623.00 194.45,623.00 199.34,623.00 204.24,623.00 209.13,623.00 214.02,623.00 218.92,623.00 223.81,623.00 228.70,623.00 233.60,623.00 238.49,623.00 243.38,623.00 248.27,623.00 253.17,623.00 258.06,623.00 262.95,623.00 267.85,623.00 272.74,623.00 277.63,623.00 282.53,623.00 287.42,623.00 292.31,623.00 297.21,623.00 302.10,623.00 306.99,623.00 311.88,623.00 316.78,623.00 321.67,623.00 326.56,623.00 331.46,623.00 336.35,623.00 341.24,590.66 346.14,558.32 351.03,558.32 355.92,547.54 360.82,552.93 365.71,558.32 370.60,552.93 375.49,569.10 380.39,569.10 385.28,569.10 390.17,563.71 395.07,563.71 399.96,552.93 404.85,552.93 409.75,504.42 414.64,515.20 419.53,493.64 424.42,477.47 429.32,482.86 434.21,482.86 439.10,488.25 444.00,504.42 448.89,499.03 453.78,493.64 458.68,488.25 463.57,493.64 468.46,499.03 473.36,499.03 478.25,509.81 483.14,504.42 488.03,504.42 492.93,504.42 497.82,499.03 502.71,493.64 507.61,488.25 512.50,493.64 517.39,493.64 522.29,499.03 527.18,515.20 532.07,509.81 536.97,515.20 541.86,515.20 546.75,515.20 551.64,515.20 556.54,515.20 561.43,499.03 566.32,509.81 571.22,520.59 576.11,499.03 581.00,493.64 585.90,488.25 590.79,434.35 595.68,439.74 600.57,423.57 605.47,434.35 610.36,428.96 615.25,428.96 620.15,428.96 625.04,428.96 629.93,418.18 634.83,418.18 639.72,385.84 644.61,364.28 649.51,364.28 654.40,423.57 659.29,396.62 664.18,412.79 669.08,412.79 673.97,407.40 678.86,385.84 683.76,391.23 688.65,407.40 693.54,385.84 698.44,385.84 703.33,358.89 708.22,402.01 713.12,380.45 718.01,391.23 722.90,380.45 727.79,407.40 732.69,402.01 737.58,402.01 742.47,412.79 747.37,418.18 752.26,418.18 757.15,428.96 762.05,439.74 766.94,439.74 771.83,445.13 776.72,450.52 781.62,472.08 786.51,466.69 791.40,455.91 796.30,461.30 801.19,472.08 806.08,482.86 810.98,472.08 815.87,477.47 820.76,493.64 825.66,504.42 830.55,509.81 835.44,515.20 840.33,525.98 845.23,525.98 850.12,525.98 855.01,531.37 859.91,552.93 864.80,558.32" stroke="#e377c2"/>
<polyline points="160.20,623.00 165.09,623.00 169.99,623.00 174.88,623.00 179.77,623.00 184.67,623.00 189.56,623.00 194.45,623.00 199.34,623.00 204.24,623.00 209.13,623.00 214.02,623.00 218.92,623.00 223.81,623.00 228.70,623.00 233.60,623.00 238.49,623.00 243.38,623.00 248.27,623.00 253.17,623.00 258.06,623.00 262.95,623.00 267.85,623.00 272.74,623.00 277.63,623.00 282.53,623.00 287.42,623.00 292.31,623.00 297.21,623.00 302.10,623.00 306.99,623.00 311.88,623.00 316.78,623.00 321.67,623.00 326.56,623.00 331.46,623.00 336.35,623.00 341.24,585.27 346.14,563.71 351.03,536.76 355.92,536.76 360.82,536.76 365.71,531.37 370.60,531.37 375.49,542.15 380.39,542.15 385.28,547.54 390.17,552.93 395.07,552.93 399.96,542.15 404.85,542.15 409.75,525.98 414.64,525.98 419.53,525.98 424.42,509.81 429.32,509.81 434.21,493.64 439.10,477.47 444.00,482.86 448.89,477.47 453.78,477.47 458.68,472.08 463.57,472.08 468.46,472.08 473.36,466.69 478.25,472.08 483.14,450.52 488.03,455.91 492.93,461.30 497.82,466.69 502.71,450.52 507.61,472.08 512.50,499.03 517.39,488.25 522.29,488.25 527.18,488.25 532.07,499.03 536.97,488.25 541.86,488.25 546.75,493.64 551.64,493.64 556.54,499.03 561.43,488.25 566.32,477.47 571.22,477.47 576.11,450.52 581.00,445.13 585.90,439.74 590.79,434.35 595.68,434.35 600.57,428.96 605.47,428.96 610.36,466.69 615.25,455.91 620.15,428.96 625.04,472.08 629.93,455.91 634.83,472.08 639.72,466.69 644.61,477.47 649.51,477.47 654.40,450.52 659.29,445.13 664.18,434.35 669.08,402.01 673.97,412.79 678.86,396.62 683.76,423.57 688.65,428.96 693.54,423.57 698.44,428.96 703.33,423.57 708.22,434.35 713.12,434.35 718.01,434.35 722.90,445.13 727.79,434.35 732.69,418.18 737.58,428.96 742.47,423.57 747.37,412.79 752.26,434.35 757.15,423.57 762.05,439.74 766.94,434.35 771.83,466.69 776.72,461.30 781.62,472.08 786.51,472.08 791.40,488.25 796.30,472.08 801.19,504.42 806.08,509.81 810.98,531.37 815.87,536.76 820.76,536.76 825.66,536.76 830.55,531.37 835.44,542.15 840.33,542.15 845.23,547.54 850.12,552.93 855.01,558.32 859.91,552.93 864.80,552.93" stroke="#7f7f7f"/>
<polyline points="160.20,623.00 165.09,623.00 169.99,623.00 174.88,623.00 179.77,623.00 184.67,623.00 189.56,623.00 194.45,623.00 199.34,623.00 204.24,623.00 209.13,623.00 214.02,623.00 218.92,623.00 223.81,623.00 228.70,623.00 233.60,623.00 238.49,623.00 243.38,623.00 248.27,623.00 253.17,623.00 258.06,623.00 262.95,623.00 267.85,623.00 272.74,623.00 277.63,623.00 282.53,623.00 287.42,623.00 292.31,623.00 297.21,623.00 302.10,623.00 306.99,623.00 311.88,623.00 316.78,623.00 321.67,623.00 326.56,623.00 331.46,623.00 336.35,623.00 341.24,623.00 346.14,623.00 351.03,623.00 355.92,623.00 360.82,623.00 365.71,617.61 370.60,612.22 375.49,606.83 380.39,601.44 385.28,596.05 390.17,590.66 395.07,590.66 399.96,585.27 404.85,579.88 409.75,574.49 414.64,569.10 419.53,563.71 424.42,504.42 429.32,499.03 434.21,482.86 439.10,472.08 444.00,472.08 448.89,466.69 453.78,461.30 458.68,461.30 463.57,472.08 468.46,450.52 473.36,450.52 478.25,450.52 483.14,450.52 488.03,466.69 492.93,472.08 497.82,477.47 502.71,482.86 507.61,482.86 512.50,499.03 517.39,488.25 522.29,488.25 527.18,493.64 532.07,493.64 536.97,482.86 541.86,477.47 546.75,482.86 551.64,461.30 556.54,477.47 561.43,472.08 566.32,461.30 571.22,445.13 576.11,434.35 581.00,428.96 585.90,428.96 590.79,402.01 595.68,412.79 600.57,407.40 605.47,407.40 610.36,423.57 615.25,428.96 620.15,423.57 625.04,407.40 629.93,412.79 634.83,418.18 639.72,428.96 644.61,428.96 649.51,428.96 654.40,423.57 659.29,423.57 664.18,434.35 669.08,439.74 673.97,445.13 678.86,445.13 683.76,488.25 688.65,466.69 693.54,472.08 698.44,472.08 703.33,477.47 708.22,482.86 713.12,466.69 718.01,461.30 722.90,445.13 727.79,445.13 732.69,418.18 737.58,412.79 742.47,423.57 747.37,445.13 752.26,466.69 757.15,472.08 762.05,472.08 766.94,499.03 771.83,509.81 776.72,520.59 781.62,509.81 786.51,509.81 791.40,542.15 796.30,520.59 801.19,531.37 806.08,542.15 810.98,520.59 815.87,525.98 820.76,525.98 825.66,536.76 830.55,552.93 835.44,563.71 840.33,563.71 845.23,579.88 850.12,574.49 855.01,574.49 859.91,579.88 864.80,579.88" stroke="#bcbd22"/>
<polyline points="160.20,623.00 165.09,623.00 169.99,623.00 174.88,623.00 179.77,623.00 184.67,623.00 189.56,623.00 194.45,623.00 199.34,623.00 204.24,623.00 209.13,623.00 214.02,623.00 218.92,623.00 223.81,623.00 228.70,623.00 233.60,623.00 238.49,623.00 243.38,623.00 248.27,623.00 253.17,623.00 258.06,623.00 262.95,623.00 267.85,623.00 272.74,623.00 277.63,623.00 282.53,623.00 287.42,623.00 292.31,623.00 297.21,623.00 302.10,623.00 306.99,623.00 311.88,623.00 316.78,623.00 321.67,623.00 326.56,623.00 331.46,623.00 336.35,623.00 341.24,590.66 346.14,574.49 351.03,547.54 355.92,558.32 360.82,552.93 365.71,547.54 370.60,552.93 375.49,563.71 380.39,563.71 385.28,558.32 390.17,552.93 395.07,563.71 399.96,547.54 404.85,547.54 409.75,547.54 414.64,525.98 419.53,536.76 424.42,531.37 429.32,525.98 434.21,525.98 439.10,520.59 444.00,520.59 448.89,520.59 453.78,515.20 458.68,493.64 463.57,493.64 468.46,477.47 473.36,472.08 478.25,461.30 483.14,472.08 488.03,477.47 492.93,477.47 497.82,499.03 502.71,515.20 507.61,499.03 512.50,499.03 517.39,525.98 522.29,515.20 527.18,515.20 532.07,515.20 536.97,509.81 541.86,493.64 546.75,461.30 551.64,461.30 556.54,461.30 561.43,455.91 566.32,423.57 571.22,402.01 576.11,396.62 581.00,428.96 585.90,428.96 590.79,402.01 595.68,375.06 600.57,380.45 605.47,375.06 610.36,380.45 615.25,380.45 620.15,385.84 625.04,375.06 629.93,385.84 634.83,418.18 639.72,428.96 644.61,428.96 649.51,439.74 654.40,434.35 659.29,428.96 664.18,423.57 669.08,434.35 673.97,423.57 678.86,402.01 683.76,396.62 688.65,396.62 693.54,385.84 698.44,375.06 703.33,391.23 708.22,375.06 713.12,369.67 718.01,396.62 722.90,418.18 727.79,407.40 732.69,418.18 737.58,445.13 742.47,434.35 747.37,434.35 752.26,434.35 757.15,445.13 762.05,455.91 766.94,466.69 771.83,461.30 776.72,461.30 781.62,466.69 786.51,477.47 791.40,466.69 796.30,488.25 801.19,488.25 806.08,499.03 810.98,520.59 815.87,504.42 820.76,515.20 825.66,520.59 830.55,520.59 835.44,520.59 840.33,542.15 845.23,547.54 850.12,558.32 855.01,563.71 859.91,569.10 864.80,574.49" stroke="#17becf"/>
<polyline points="160.20,623.00 165.09,623.00 169.99,623.00 174.88,623.00 179.77,623.00 184.67,623.00 189.56,623.00 194.45,623.00 199.34,623.00 204.24,623.00 209.13,623.00 214.02,623.00 218.92,623.00 223.81,623.00 228.70,623.00 233.60,623.00 238.49,623.00 243.38,623.00 248.27,623.00 253.17,623.00 258.06,623.00 262.95,623.00 267.85,623.00 272.74,623.00 277.63,623.00 282.53,623.00 287.42,623.00 292.31,623.00 297.21,623.00 302.10,623.00 306.99,623.00 311.88,623.00 316.78,623.00 321.67,623.00 326.56,623.00 331.46,623.00 336.35,623.00 341.24,623.00 346.14,623.00 351.03,623.00 355.92,623.00 360.82,623.00 365.71,606.83 370.60,590.66 375.49,574.49 380.39,558.32 385.28,552.93 390.17,569.10 395.07,552.93 399.96,547.54 404.85,515.20 409.75,504.42 414.64,499.03 419.53,499.03 424.42,482.86 429.32,466.69 434.21,472.08 439.10,482.86 444.00,477.47 448.89,477.47 453.78,477.47 458.68,477.47 463.57,477.47 468.46,477.47 473.36,472.08 478.25,472.08 483.14,472.08 488.03,461.30 492.93,472.08 497.82,466.69 502.71,461.30 507.61,466.69 512.50,472.08 517.39,482.86 522.29,482.86 527.18,488.25 532.07,493.64 536.97,493.64 541.86,493.64 546.75,499.03 551.64,466.69 556.54,445.13 561.43,439.74 566.32,434.35 571.22,428.96 576.11,418.18 581.00,412.79 585.90,418.18 590.79,450.52 595.68,428.96 600.57,455.91 605.47,455.91 610.36,450.52 615.25,445.13 620.15,439.74 625.04,434.35 629.93,423.57 634.83,418.18 639.72,445.13 644.61,434.35 649.51,428.96 654.40,407.40 659.29,445.13 664.18,439.74 669.08,439.74 673.97,428.96 678.86,423.57 683.76,418.18 688.65,385.84 693.54,385.84 698.44,396.62 703.33,396.62 708.22,385.84 713.12,391.23 718.01,396.62 722.90,402.01 727.79,385.84 732.69,385.84 737.58,380.45 742.47,402.01 747.37,385.84 752.26,369.67 757.15,407.40 762.05,407.40 766.94,402.01 771.83,407.40 776.72,418.18 781.62,445.13 786.51,434.35 791.40,439.74 796.30,455.91 801.19,472.08 806.08,477.47 810.98,504.42 815.87,509.81 820.76,509.81 825.66,542.15 830.55,536.76 835.44,536.76 840.33,558.32 845.23,569.10 850.12,569.10 855.01,574.49 859.91,596.05 864.80,579.88" stroke="#1f77b4"/>
<polyline points="160.20,623.00 165.09,623.00 169.99,623.00 174.88,623.00 179.77,623.00 184.67,623.00 189.56,623.00 194.45,623.00 199.34,623.00 204.24,623.00 209.13,623.00 214.02,623.00 218.92,623.00 223.81,623.00 228.70,623.00 233.60,623.00 238.49,623.00 243.38,623.00 248.27,623.00 253.17,623.00 258.06,623.00 262.95,623.00 267.85,623.00 272.74,623.00 277.63,623.00 282.53,623.00 287.42,623.00 292.31,623.00 297.21,623.00 302.10,623.00 306.99,623.00 311.88,623.00 316.78,623.00 321.67,623.00 326.56,623.00 331.46,623.00 336.35,623.00 341.24,596.05 346.14,558.32 351.03,536.76 355.92,525.98 360.82,520.59 365.71,515.20 370.60,515.20 375.49,515.20 380.39,515.20 385.28,520.59 390.17,525.98 395.07,536.76 399.96,547.54 404.85,558.32 409.75,552.93 414.64,569.10 419.53,563.71 424.42,558.32 429.32,569.10 434.21,569.10 439.10,558.32 444.00,547.54 448.89,520.59 453.78,531.37 458.68,509.81 463.57,515.20 468.46,515.20 473.36,515.20 478.25,515.20 483.14,520.59 488.03,520.59 492.93,536.76 497.82,531.37 502.71,531.37 507.61,525.98 512.50,536.76 517.39,515.20 522.29,531.37 527.18,520.59 532.07,536.76 536.97,525.98 541.86,520.59 546.75,520.59 551.64,520.59 556.54,504.42 561.43,504.42 566.32,472.08 571.22,477.47 576.11,472.08 581.00,488.25 585.90,472.08 590.79,461.30 595.68,450.52 600.57,450.52 605.47,434.35 610.36,407.40 615.25,445.13 620.15,450.52 625.04,472.08 629.93,461.30 634.83,461.30 639.72,482.86 644.61,455.91 649.51,461.30 654.40,466.69 659.29,455.91 664.18,450.52 669.08,450.52 673.97,466.69 678.86,461.30 683.76,482.86 688.65,482.86 693.54,466.69 698.44,493.64 703.33,493.64 708.22,504.42 713.12,504.42 718.01,509.81 722.90,493.64 727.79,488.25 732.69,466.69 737.58,472.08 742.47,466.69 747.37,450.52 752.26,450.52 757.15,450.52 762.05,461.30 766.94,493.64 771.83,515.20 776.72,499.03 781.62,509.81 786.51,515.20 791.40,520.59 796.30,509.81 801.19,515.20 806.08,531.37 810.98,525.98 815.87,531.37 820.76,531.37 825.66,563.71 830.55,574.49 835.44,563.71 840.33,579.88 845.23,590.66 850.12,579.88 855.01,579.88 859.91,590.66 864.80,590.66" stroke="#ff7f0e"/>
<polyline points="160.20,623.00 165.09,623.00 169.99,623.00 174.88,623.00 179.77,623.00 184.67,623.00 189.56,623.00 194.45,623.00 199.34,623.00 204.24,623.00 209.13,623.00 214.02,623.00 218.92,623.00 223.81,623.00 228.70,623.00 233.60,623.00 238.49,623.00 243.38,623.00 248.27,623.00 253.17,623.00 258.06,623.00 262.95,623.00 267.85,623.00 272.74,623.00 277.63,623.00 282.53,623.00 287.42,623.00 292.31,623.00 297.21,623.00 302.10,623.00 306.99,623.00 311.88,623.00 316.78,623.00 321.67,623.00 326.56,623.00 331.46,623.00 336.35,623.00 341.24,617.61 346.14,569.10 351.03,563.71 355.92,552.93 360.82,558.32 365.71,558.32 370.60,569.10 375.49,552.93 380.39,563.71 385.28,563.71 390.17,569.10 395.07,574.49 399.96,569.10 404.85,542.15 409.75,531.37 414.64,520.59 419.53,531.37 424.42,499.03 429.32,493.64 434.21,482.86 439.10,466.69 444.00,482.86 448.89,477.47 453.78,477.47 458.68,472.08 463.57,482.86 468.46,477.47 473.36,493.64 478.25,499.03 483.14,499.03 488.03,499.03 492.93,515.20 497.82,515.20 502.71,520.59 507.61,525.98 512.50,531.37 517.39,547.54 522.29,547.54 527.18,515.20 532.07,531.37 536.97,531.37 541.86,525.98 546.75,520.59 551.64,520.59 556.54,515.20 561.43,520.59 566.32,499.03 571.22,488.25 576.11,455.91 581.00,439.74 585.90,434.35 590.79,428.96 595.68,423.57 600.57,380.45 605.47,380.45 610.36,412.79 615.25,396.62 620.15,434.35 625.04,434.35 629.93,434.35 634.83,455.91 639.72,445.13 644.61,434.35 649.51,423.57 654.40,412.79 659.29,418.18 664.18,407.40 669.08,402.01 673.97,418.18 678.86,423.57 683.76,445.13 688.65,445.13 693.54,434.35 698.44,450.52 703.33,466.69 708.22,423.57 713.12,439.74 718.01,450.52 722.90,428.96 727.79,434.35 732.69,423.57 737.58,434.35 742.47,407.40 747.37,412.79 752.26,412.79 757.15,423.57 762.05,428.96 766.94,418.18 771.83,428.96 776.72,439.74 781.62,450.52 786.51,439.74 791.40,455.91 796.30,450.52 801.19,466.69 806.08,472.08 810.98,472.08 815.87,493.64 820.76,493.64 825.66,515.20 830.55,504.42 835.44,525.98 840.33,531.37 845.23,542.15 850.12,552.93 855.01,563.71 859.91,569.10 864.80,579.88" stroke="#2ca02c"/>
<polyline points="160.20,623.00 165.09,623.00 169.99,623.00 174.88,623.00 179.77,623.00 184.67,623.00 189.56,623.00 194.45,623.00 199.34,623.00 204.24,623.00 209.13,623.00 214.02,623.00 218.92,623.00 223.81,623.00 228.70,623.00 233.60,623.00 238.49,623.00 243.38,623.00 248.27,623.00 253.17,623.00 258.06,623.00 262.95,623.00 267.85,623.00 272.74,623.00 277.63,623.00 282.53,623.00 287.42,623.00 292.31,623.00 297.21,623.00 302.10,623.00 306.99,623.00 311.88,623.00 316.78,623.00 321.67,623.00 326.56,623.00 331.46,623.00 336.35,623.00 341.24,612.22 346.14,558.32 351.03,547.54 355.92,536.76 360.82,542.15 365.71,542.15 370.60,558.32 375.49,569.10 380.39,569.10 385.28,574.49 390.17,574.49 395.07,574.49 399.96,569.10 404.85,552.93 409.75,552.93 414.64,531.37 419.53,509.81 424.42,520.59 429.32,515.20 434.21,515.20 439.10,488.25 444.00,488.25 448.89,509.81 453.78,499.03 458.68,515.20 463.57,504.42 468.46,509.81 473.36,509.81 478.25,520.59 483.14,504.42 488.03,504.42 492.93,499.03 497.82,509.81 502.71,515.20 507.61,525.98 512.50,520.59 517.39,520.59 522.29,525.98 527.18,525.98 532.07,531.37 536.97,536.76 541.86,525.98 546.75,509.81 551.64,504.42 556.54,515.20 561.43,477.47 566.32,472.08 571.22,461.30 576.11,472.08 581.00,450.52 585.90,445.13 590.79,434.35 595.68,466.69 600.57,472.08 605.47,466.69 610.36,461.30 615.25,461.30 620.15,482.86 625.04,482.86 629.93,472.08 634.83,466.69 639.72,461.30 644.61,477.47 649.51,477.47 654.40,466.69 659.29,461.30 664.18,428.96 669.08,423.57 673.97,428.96 678.86,412.79 683.76,423.57 688.65,418.18 693.54,428.96 698.44,428.96 703.33,450.52 708.22,445.13 713.12,445.13 718.01,439.74 722.90,423.57 727.79,439.74 732.69,439.74 737.58,455.91 742.47,455.91 747.37,455.91 752.26,472.08 757.15,461.30 762.05,455.91 766.94,482.86 771.83,466.69 776.72,477.47 781.62,477.47 786.51,504.42 791.40,493.64 796.30,515.20 801.19,515.20 806.08,525.98 810.98,531.37 815.87,547.54 820.76,552.93 825.66,563.71 830.55,569.10 835.44,569.10 840.33,569.10 845.23,569.10 850.12,569.10 855.01,569.10 859.91,569.10 864.80,574.49" stroke="#d62728"/>
<polyline points="160.20,623.00 165.09,623.00 169.99,623.00 174.88,623.00 179.77,623.00 184.67,623.00 189.56,623.00 194.45,623.00 199.34,623.00 204.24,623.00 209.13,623.00 214.02,623.00 218.92,623.00 223.81,623.00 228.70,623.00 233.60,623.00 238.49,623.00 243.38,623.00 248.27,623.00 253.17,623.00 258.06,623.00 262.95,623.00 267.85,623.00 272.74,623.00 277.63,623.00 282.53,623.00 287.42,623.00 292.31,623.00 297.21,623.00 302.10,623.00 306.99,623.00 311.88,623.00 316.78,623.00 321.67,623.00 326.56,623.00 331.46,623.00 336.35,623.00 341.24,606.83 346.14,606.83 351.03,601.44 355.92,596.05 360.82,574.49 365.71,569.10 370.60,574.49 375.49,569.10 380.39,585.27 385.28,574.49 390.17,574.49 395.07,574.49 399.96,569.10 404.85,574.49 409.75,579.88 414.64,558.32 419.53,552.93 424.42,547.54 429.32,547.54 434.21,536.76 439.10,531.37 444.00,542.15 448.89,542.15 453.78,525.98 458.68,531.37 463.57,504.42 468.46,499.03 473.36,509.81 478.25,482.86 483.14,482.86 488.03,482.86 492.93,482.86 497.82,466.69 502.71,461.30 507.61,466.69 512.50,477.47 517.39,472.08 522.29,482.86 527.18,482.86 532.07,472.08 536.97,472.08 541.86,482.86 546.75,477.47 551.64,482.86 556.54,477.47 561.43,472.08 566.32,455.91 571.22,445.13 576.11,455.91 581.00,434.35 585.90,439.74 590.79,423.57 595.68,423.57 600.57,407.40 605.47,380.45 610.36,369.67 615.25,337.33 620.15,331.94 625.04,342.72 629.93,348.11 634.83,375.06 639.72,380.45 644.61,380.45 649.51,380.45 654.40,353.50 659.29,358.89 664.18,358.89 669.08,391.23 673.97,369.67 678.86,364.28 683.76,391.23 688.65,380.45 693.54,385.84 698.44,375.06 703.33,369.67 708.22,375.06 713.12,375.06 718.01,375.06 722.90,375.06 727.79,385.84 732.69,391.23 737.58,439.74 742.47,450.52 747.37,493.64 752.26,499.03 757.15,499.03 762.05,499.03 766.94,520.59 771.83,531.37 776.72,525.98 781.62,531.37 786.51,531.37 791.40,531.37 796.30,542.15 801.19,558.32 806.08,552.93 810.98,563.71 815.87,542.15 820.76,525.98 825.66,542.15 830.55,558.32 835.44,552.93 840.33,563.71 845.23,579.88 850.12,579.88 855.01,585.27 859.91,585.27 864.80,585.27" stroke="#9467bd"/>
<polyline points="160.20,623.00 165.09,623.00 169.99,623.00 174.88,623.00 179.77,623.00 184.67,623.00 189.56,623.00 194.45,623.00 199.34,623.00 204.24,623.00 209.13,623.00 214.02,623.00 218.92,623.00 223.81,623.00 228.70,623.00 233.60,623.00 238.49,623.00 243.38,623.00 248.27,623.00 253.17,623.00 258.06,623.00 262.95,623.00 267.85,623.00 272.74,623.00 277.63,623.00 282.53,623.00 287.42,623.00 292.31,623.00 297.21,623.00 302.10,623.00 306.99,623.00 311.88,623.00 316.78,623.00 321.67,623.00 326.56,623.00 331.46,623.00 336.35,623.00 341.24,612.22 346.14,536.76 351.03,531.37 355.92,520.59 360.82,515.20 365.71,504.42 370.60,509.81 375.49,515.20 380.39,520.59 385.28,520.59 390.17,515.20 395.07,520.59 399.96,520.59 404.85,515.20 409.75,504.42 414.64,504.42 419.53,504.42 424.42,499.03 429.32,499.03 434.21,499.03 439.10,504.42 444.00,499.03 448.89,504.42 453.78,504.42 458.68,509.81 463.57,499.03 468.46,504.42 473.36,515.20 478.25,515.20 483.14,509.81 488.03,504.42 492.93,509.81 497.82,499.03 502.71,499.03 507.61,509.81 512.50,493.64 517.39,482.86 522.29,488.25 527.18,482.86 532.07,472.08 536.97,482.86 541.86,488.25 546.75,488.25 551.64,477.47 556.54,472.08 561.43,466.69 566.32,461.30 571.22,445.13 576.11,450.52 581.00,445.13 585.90,455.91 590.79,450.52 595.68,461.30 600.57,472.08 605.47,472.08 610.36,466.69 615.25,461.30 620.15,439.74 625.04,439.74 629.93,423.57 634.83,428.96 639.72,434.35 644.61,428.96 649.51,428.96 654.40,423.57 659.29,445.13 664.18,445.13 669.08,423.57 673.97,428.96 678.86,423.57 683.76,434.35 688.65,434.35 693.54,418.18 698.44,434.35 703.33,428.96 708.22,428.96 713.12,428.96 718.01,466.69 722.90,461.30 727.79,445.13 732.69,455.91 737.58,455.91 742.47,455.91 747.37,482.86 752.26,477.47 757.15,461.30 762.05,472.08 766.94,482.86 771.83,482.86 776.72,472.08 781.62,477.47 786.51,477.47 791.40,461.30 796.30,466.69 801.19,472.08 806.08,488.25 810.98,493.64 815.87,509.81 820.76,515.20 825.66,547.54 830.55,552.93 835.44,579.88 840.33,579.88 845.23,579.88 850.12,585.27 855.01,596.05 859.91,596.05 864.80,601.44" stroke="#8c564b"/>
<polyline points="160.20,623.00 165.09,623.00 169.99,623.00 174.88,623.00 179.77,623.00 184.67,623.00 189.56,623.00 194.45,623.00 199.34,623.00 204.24,623.00 209.13,623.00 214.02,623.00 218.92,623.00 223.81,623.00 228.70,623.00 233.60,623.00 238.49,623.00 243.38,623.00 248.27,623.00 253.17,623.00 258.06,623.00 262.95,623.00 267.85,623.00 272.74,623.00 277.63,623.00 282.53,623.00 287.42,623.00 292.31,623.00 297.21,623.00 302.10,623.00 306.99,623.00 311.88,623.00 316.78,623.00 321.67,623.00 326.56,623.00 331.46,623.00 336.35,623.00 341.24,606.83 346.14,596.05 351.03,590.66 355.92,569.10 360.82,563.71 365.71,542.15 370.60,525.98 375.49,531.37 380.39,542.15 385.28,542.15 390.17,536.76 395.07,542.15 399.96,542.15 404.85,536.76 409.75,536.76 414.64,531.37 419.53,525.98 424.42,499.03 429.32,488.25 434.21,477.47 439.10,477.47 444.00,477.47 448.89,466.69 453.78,466.69 458.68,472.08 463.57,482.86 468.46,477.47 473.36,482.86 478.25,488.25 483.14,488.25 488.03,493.64 492.93,509.81 497.82,493.64 502.71,504.42 507.61,509.81 512.50,509.81 517.39,499.03 522.29,493.64 527.18,493.64 532.07,493.64 536.97,499.03 541.86,509.81 546.75,504.42 551.64,488.25 556.54,488.25 561.43,482.86 566.32,461.30 571.22,434.35 576.11,434.35 581.00,396.62 585.90,396.62 590.79,407.40 595.68,418.18 600.57,402.01 605.47,423.57 610.36,412.79 615.25,402.01 620.15,402.01 625.04,423.57 629.93,402.01 634.83,402.01 639.72,407.40 644.61,423.57 649.51,450.52 654.40,461.30 659.29,428.96 664.18,418.18 669.08,428.96 673.97,439.74 678.86,391.23 683.76,407.40 688.65,402.01 693.54,428.96 698.44,407.40 703.33,402.01 708.22,402.01 713.12,385.84 718.01,391.23 722.90,380.45 727.79,396.62 732.69,402.01 737.58,428.96 742.47,423.57 747.37,428.96 752.26,445.13 757.15,428.96 762.05,450.52 766.94,439.74 771.83,445.13 776.72,482.86 781.62,482.86 786.51,482.86 791.40,482.86 796.30,482.86 801.19,488.25 806.08,499.03 810.98,515.20 815.87,515.20 820.76,536.76 825.66,536.76 830.55,547.54 835.44,558.32 840.33,558.32 845.23,558.32 850.12,585.27 855.01,585.27 859.91,590.66 864.80,590.66" stroke="#e377c2"/>
<polyline points="160.20,623.00 165.09,623.00 169.99,623.00 174.88,623.00 179.77,623.00 184.67,623.00 189.56,623.00 194.45,623.00 199.34,623.00 204.24,623.00 209.13,623.00 214.02,623.00 218.92,623.00 223.81,623.00 228.70,623.00 233.60,623.00 238.49,623.00 243.38,623.00 248.27,623.00 253.17,623.00 258.06,623.00 262.95,623.00 267.85,623.00 272.74,623.00 277.63,623.00 282.53,623.00 287.42,623.00 292.31,623.00 297.21,623.00 302.10,623.00 306.99,623.00 311.88,623.00 316.78,623.00 321.67,623.00 326.56,623.00 331.46,623.00 336.35,623.00 341.24,601.44 346.14,574.49 351.03,558.32 355.92,552.93 360.82,552.93 365.71,542.15 370.60,547.54 375.49,542.15 380.39,547.54 385.28,558.32 390.17,531.37 395.07,536.76 399.96,525.98 404.85,536.76 409.75,536.76 414.64,542.15 419.53,542.15 424.42,536.76 429.32,542.15 434.21,525.98 439.10,525.98 444.00,509.81 448.89,531.37 453.78,525.98 458.68,525.98 463.57,536.76 468.46,531.37 473.36,542.15 478.25,531.37 483.14,531.37 488.03,531.37 492.93,525.98 497.82,531.37 502.71,525.98 507.61,531.37 512.50,552.93 517.39,536.76 522.29,547.54 527.18,531.37 532.07,525.98 536.97,525.98 541.86,531.37 546.75,525.98 551.64,531.37 556.54,509.81 561.43,509.81 566.32,509.81 571.22,515.20 576.11,509.81 581.00,499.03 585.90,493.64 590.79,493.64 595.68,499.03 600.57,488.25 605.47,461.30 610.36,461.30 615.25,455.91 620.15,455.91 625.04,445.13 629.93,434.35 634.83,455.91 639.72,423.57 644.61,439.74 649.51,418.18 654.40,477.47 659.29,472.08 664.18,477.47 669.08,466.69 673.97,466.69 678.86,482.86 683.76,477.47 688.65,477.47 693.54,493.64 698.44,477.47 703.33,482.86 708.22,482.86 713.12,477.47 718.01,477.47 722.90,482.86 727.79,472.08 732.69,482.86 737.58,477.47 742.47,525.98 747.37,509.81 752.26,515.20 757.15,515.20 762.05,520.59 766.94,499.03 771.83,531.37 776.72,536.76 781.62,520.59 786.51,536.76 791.40,536.76 796.30,547.54 801.19,536.76 806.08,547.54 810.98,552.93 815.87,569.10 820.76,574.49 825.66,574.49 830.55,585.27 835.44,579.88 840.33,585.27 845.23,596.05 850.12,606.83 855.01,606.83 859.91,606.83 864.80,612.22" stroke="#7f7f7f"/>
<polyline points="160.20,623.00 165.09,623.00 169.99,623.00 174.88,623.00 179.77,623.00 184.67,623.00 189.56,623.00 194.45,623.00 199.34,623.00 204.24,623.00 209.13,623.00 214.02,623.00 218.92,623.00 223.81,623.00 228.70,623.00 233.60,623.00 238.49,623.00 243.38,623.00 248.27,623.00 253.17,623.00 258.06,623.00 262.95,623.00 267.85,623.00 272.74,623.00 277.63,623.00 282.53,623.00 287.42,623.00 292.31,623.00 297.21,623.00 302.10,623.00 306.99,623.00 311.88,623.00 316.78,623.00 321.67,623.00 326.56,623.00 331.46,623.00 336.35,623.00 341.24,601.44 346.14,569.10 351.03,542.15 355.92,531.37 360.82,525.98 365.71,520.59 370.60,515.20 375.49,515.20 380.39,525.98 385.28,536.76 390.17,547.54 395.07,520.59 399.96,531.37 404.85,509.81 409.75,515.20 414.64,520.59 419.53,531.37 424.42,520.59 429.32,509.81 434.21,504.42 439.10,493.64 444.00,493.64 448.89,488.25 453.78,488.25 458.68,477.47 463.57,472.08 468.46,466.69 473.36,472.08 478.25,472.08 483.14,477.47 488.03,466.69 492.93,472.08 497.82,466.69 502.71,472.08 507.61,461.30 512.50,488.25 517.39,482.86 522.29,466.69 527.18,461.30 532.07,472.08 536.97,466.69 541.86,466.69 546.75,455.91 551.64,466.69 556.54,472.08 561.43,466.69 566.32,472.08 571.22,455.91 576.11,455.91 581.00,445.13 585.90,428.96 590.79,412.79 595.68,418.18 600.57,380.45 605.47,412.79 610.36,407.40 615.25,396.62 620.15,418.18 625.04,402.01 629.93,407.40 634.83,434.35 639.72,450.52 644.61,445.13 649.51,445.13 654.40,450.52 659.29,445.13 664.18,439.74 669.08,445.13 673.97,445.13 678.86,434.35 683.76,423.57 688.65,412.79 693.54,407.40 698.44,353.50 703.33,385.84 708.22,364.28 713.12,348.11 718.01,353.50 722.90,380.45 727.79,380.45 732.69,375.06 737.58,396.62 742.47,396.62 747.37,412.79 752.26,412.79 757.15,418.18 762.05,434.35 766.94,439.74 771.83,439.74 776.72,439.74 781.62,445.13 786.51,477.47 791.40,477.47 796.30,472.08 801.19,477.47 806.08,477.47 810.98,504.42 815.87,482.86 820.76,499.03 825.66,509.81 830.55,520.59 835.44,525.98 840.33,552.93 845.23,547.54 850.12,558.32 855.01,547.54 859.91,547.54 864.80,563.71" stroke="#bcbd22"/>
<polyline points="160.20,623.00 165.09,623.00 169.99,623.00 174.88,623.00 179.77,623.00 184.67,623.00 189.56,623.00 194.45,623.00 199.34,623.00 204.24,623.00 209.13,623.00 214.02,623.00 218.92,623.00 223.81,623.00 228.70,623.00 233.60,623.00 238.49,623.00 243.38,623.00 248.27,623.00 253.17,623.00 258.06,623.00 262.95,623.00 267.85,623.00 272.74,623.00 277.63,623.00 282.53,623.00 287.42,623.00 292.31,623.00 297.21,623.00 302.10,623.00 306.99,623.00 311.88,623.00 316.78,623.00 321.67,623.00 326.56,623.00 331.46,623.00 336.35,623.00 341.24,617.61 346.14,574.49 351.03,558.32 355.92,558.32 360.82,547.54 365.71,542.15 370.60,531.37 375.49,542.15 380.39,542.15 385.28,558.32 390.17,558.32 395.07,558.32 399.96,552.93 404.85,536.76 409.75,520.59 414.64,515.20 419.53,493.64 424.42,493.64 429.32,488.25 434.21,499.03 439.10,493.64 444.00,482.86 448.89,493.64 453.78,499.03 458.68,493.64 463.57,493.64 468.46,493.64 473.36,509.81 478.25,509.81 483.14,504.42 488.03,493.64 492.93,493.64 497.82,493.64 502.71,488.25 507.61,488.25 512.50,499.03 517.39,499.03 522.29,509.81 527.18,509.81 532.07,504.42 536.97,488.25 541.86,493.64 546.75,493.64 551.64,477.47 556.54,477.47 561.43,445.13 566.32,445.13 571.22,423.57 576.11,423.57 581.00,428.96 585.90,423.57 590.79,407.40 595.68,418.18 600.57,391.23 605.47,407.40 610.36,391.23 615.25,391.23 620.15,385.84 625.04,375.06 629.93,380.45 634.83,385.84 639.72,385.84 644.61,380.45 649.51,380.45 654.40,369.67 659.29,380.45 664.18,380.45 669.08,375.06 673.97,391.23 678.86,380.45 683.76,407.40 688.65,423.57 693.54,439.74 698.44,407.40 703.33,391.23 708.22,412.79 713.12,466.69 718.01,391.23 722.90,396.62 727.79,428.96 732.69,423.57 737.58,423.57 742.47,455.91 747.37,455.91 752.26,461.30 757.15,461.30 762.05,477.47 766.94,472.08 771.83,477.47 776.72,477.47 781.62,482.86 786.51,504.42 791.40,525.98 796.30,525.98 801.19,536.76 806.08,552.93 810.98,531.37 815.87,552.93 820.76,552.93 825.66,558.32 830.55,563.71 835.44,569.10 840.33,569.10 845.23,585.27 850.12,590.66 855.01,596.05 859.91,585.27 864.80,596.05" stroke="#17becf"/>
<polyline points="165.09,623 336.35,623" stroke="#1f77b4"/>
<polyline points="165.09,623 336.35,623" stroke="#17becf"/>
</g>
<polyline points="160.2,552.6 160.5,575.0 161.4,601.0 162.8,614.0 165.0,622.2 200.0,622.4 300.0,622.4 330.0,622.3 335.0,621.6 337.3,612.5 339.0,600.0 340.4,592.0 343.6,580.8 350.0,570.0 356.0,558.6 362.0,549.0 368.0,543.4 373.0,543.0 380.0,545.0 388.0,548.4 394.0,548.8 400.0,545.0 406.0,535.0 412.0,524.5 418.0,515.0 426.0,504.0 434.0,494.0 442.0,486.0 452.0,480.0 462.0,473.4 469.0,471.0 476.0,473.6 486.0,477.0 494.0,484.0 504.0,491.0 513.0,496.4 520.0,494.0 526.0,488.4 533.0,488.0 544.0,484.4 554.0,476.0 564.0,468.0 570.0,461.0 574.0,454.0 582.0,448.0 590.0,445.0 596.0,441.0 601.0,434.0 606.0,429.0 612.0,425.0 618.0,422.0 624.0,421.0 632.0,421.6 638.0,424.0 644.0,428.0 652.0,430.0 660.0,429.6 670.0,428.0 680.0,426.0 688.0,424.0 696.0,421.0 704.0,418.4 712.0,417.0 718.0,420.0 726.0,427.0 736.0,437.0 743.0,444.0 750.0,454.0 755.0,461.0 760.0,463.0 768.0,468.0 774.0,476.0 782.0,483.0 789.0,490.0 794.0,500.0 799.0,510.5 806.0,519.5 813.6,527.5 822.6,535.0 831.6,543.0 838.8,552.0 846.0,561.0 853.0,568.4 858.6,575.6 862.0,581.5 864.8,584.0" fill="none" stroke="#000" stroke-width="2.78" stroke-dasharray="10.28 4.44" stroke-linejoin="round"/>
<g stroke="#000" stroke-width="1.11" fill="none"><line x1="160.5" y1="623.5" x2="160.5" y2="628.5"/><line x1="248.5" y1="623.5" x2="248.5" y2="628.5"/><line x1="336.5" y1="623.5" x2="336.5" y2="628.5"/><line x1="424.5" y1="623.5" x2="424.5" y2="628.5"/><line x1="513.5" y1="623.5" x2="513.5" y2="628.5"/><line x1="601.5" y1="623.5" x2="601.5" y2="628.5"/><line x1="689.5" y1="623.5" x2="689.5" y2="628.5"/><line x1="777.5" y1="623.5" x2="777.5" y2="628.5"/><line x1="865.5" y1="623.5" x2="865.5" y2="628.5"/><line x1="120.4" y1="623.5" x2="125.5" y2="623.5"/><line x1="120.4" y1="515.5" x2="125.5" y2="515.5"/><line x1="120.4" y1="407.5" x2="125.5" y2="407.5"/><line x1="120.4" y1="300.5" x2="125.5" y2="300.5"/><line x1="120.4" y1="192.5" x2="125.5" y2="192.5"/><line x1="120.4" y1="84.5" x2="125.5" y2="84.5"/></g>
<rect x="125.5" y="84.5" width="775" height="539" fill="none" stroke="#000" stroke-width="1.11"/>
<rect x="718.6" y="91.4" width="174.8" height="24.8" rx="2.8" ry="2.8" fill="#fff" fill-opacity="0.8" stroke="#ccc" stroke-width="1.11"/>
<line x1="723.3" y1="103.5" x2="751.1" y2="103.5" stroke="#000" stroke-width="2.78" stroke-dasharray="10.6 4.1"/>
<text x="114.30" y="628.60" font-size="14.0" text-anchor="end" textLength="7.7" lengthAdjust="spacingAndGlyphs" >0</text><text x="114.30" y="520.80" font-size="14.0" text-anchor="end" textLength="16.5" lengthAdjust="spacingAndGlyphs" >20</text><text x="114.30" y="413.00" font-size="14.0" text-anchor="end" textLength="16.5" lengthAdjust="spacingAndGlyphs" >40</text><text x="114.30" y="305.20" font-size="14.0" text-anchor="end" textLength="16.5" lengthAdjust="spacingAndGlyphs" >60</text><text x="114.30" y="197.40" font-size="14.0" text-anchor="end" textLength="16.5" lengthAdjust="spacingAndGlyphs" >80</text><text x="114.30" y="89.60" font-size="14.0" text-anchor="end" textLength="24.6" lengthAdjust="spacingAndGlyphs" >100</text><g transform="translate(159.30,652.0) rotate(-45)"><text x="0.00" y="5.10" font-size="14.0" text-anchor="middle" textLength="38.4" lengthAdjust="spacingAndGlyphs" >00:00</text></g><g transform="translate(247.37,652.0) rotate(-45)"><text x="0.00" y="5.10" font-size="14.0" text-anchor="middle" textLength="38.4" lengthAdjust="spacingAndGlyphs" >03:00</text></g><g transform="translate(335.45,652.0) rotate(-45)"><text x="0.00" y="5.10" font-size="14.0" text-anchor="middle" textLength="38.4" lengthAdjust="spacingAndGlyphs" >06:00</text></g><g transform="translate(423.52,652.0) rotate(-45)"><text x="0.00" y="5.10" font-size="14.0" text-anchor="middle" textLength="38.4" lengthAdjust="spacingAndGlyphs" >09:00</text></g><g transform="translate(511.60,652.0) rotate(-45)"><text x="0.00" y="5.10" font-size="14.0" text-anchor="middle" textLength="38.4" lengthAdjust="spacingAndGlyphs" >12:00</text></g><g transform="translate(599.67,652.0) rotate(-45)"><text x="0.00" y="5.10" font-size="14.0" text-anchor="middle" textLength="38.4" lengthAdjust="spacingAndGlyphs" >15:00</text></g><g transform="translate(687.75,652.0) rotate(-45)"><text x="0.00" y="5.10" font-size="14.0" text-anchor="middle" textLength="38.4" lengthAdjust="spacingAndGlyphs" >18:00</text></g><g transform="translate(775.82,652.0) rotate(-45)"><text x="0.00" y="5.10" font-size="14.0" text-anchor="middle" textLength="38.4" lengthAdjust="spacingAndGlyphs" >21:00</text></g><g transform="translate(863.90,652.0) rotate(-45)"><text x="0.00" y="5.10" font-size="14.0" text-anchor="middle" textLength="38.4" lengthAdjust="spacingAndGlyphs" >24:00</text></g><text x="511.90" y="687.10" font-size="14.0" text-anchor="middle" textLength="263.5" lengthAdjust="spacingAndGlyphs" >Time of Day (Seconds Since Midnight)</text><g transform="translate(79.3,353.6) rotate(-90)"><text x="0.00" y="0.00" font-size="14.0" text-anchor="middle" textLength="159" lengthAdjust="spacingAndGlyphs" >Occupancy Percentage</text></g><text x="512.50" y="76.00" font-size="17.1" text-anchor="middle" textLength="123.5" lengthAdjust="spacingAndGlyphs" >Data for Friday</text><text x="762.60" y="107.20" font-size="14.0" text-anchor="start" textLength="124.5" lengthAdjust="spacingAndGlyphs" >Weekday Average</text>
</svg>
</body></html>
